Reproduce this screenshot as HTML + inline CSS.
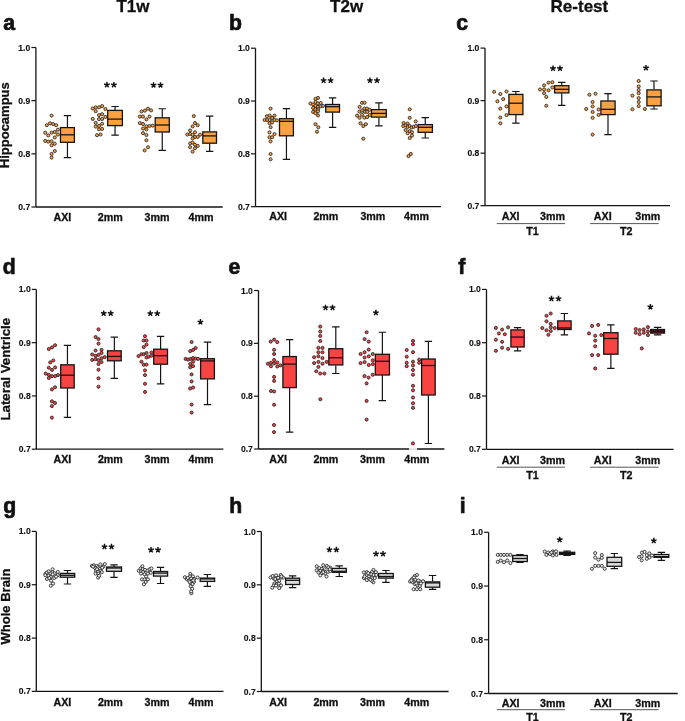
<!DOCTYPE html>
<html><head><meta charset="utf-8"><style>
html,body{margin:0;padding:0;background:#fff;width:685px;height:721px;overflow:hidden}
svg{will-change:transform}
svg text{font-family:"Liberation Sans", sans-serif;fill:#111;stroke:#111;stroke-width:0.3px}
</style></head><body>
<svg width="685" height="721" viewBox="0 0 685 721" style="display:block">
<rect width="685" height="721" fill="#fff"/>
<path d="M35.9 47.5V207M35.9 207H222.7" stroke="#141414" stroke-width="1.3" fill="none"/>
<path d="M31.4 47.5H35.9" stroke="#141414" stroke-width="1.2"/>
<text x="30.3" y="50.58" font-size="8.6" font-weight="bold" text-anchor="end" style="stroke-width:0.12px">1.0</text>
<path d="M31.4 100.67H35.9" stroke="#141414" stroke-width="1.2"/>
<text x="30.3" y="103.75" font-size="8.6" font-weight="bold" text-anchor="end" style="stroke-width:0.12px">0.9</text>
<path d="M31.4 153.83H35.9" stroke="#141414" stroke-width="1.2"/>
<text x="30.3" y="156.91" font-size="8.6" font-weight="bold" text-anchor="end" style="stroke-width:0.12px">0.8</text>
<path d="M31.4 207H35.9" stroke="#141414" stroke-width="1.2"/>
<text x="30.3" y="210.08" font-size="8.6" font-weight="bold" text-anchor="end" style="stroke-width:0.12px">0.7</text>
<path d="M67.45 115.6V127.3M67.45 142.6V157.6M63.75 115.6H71.15M63.75 157.6H71.15" stroke="#141414" stroke-width="1.2" fill="none"/>
<rect x="60.5" y="127.6" width="13.9" height="14.7" fill="#fca042" stroke="#141414" stroke-width="1.3"/>
<path d="M60.5 134.8H74.4" stroke="#141414" stroke-width="1.3"/>
<circle cx="51.6" cy="115.6" r="1.55" fill="#fca042" stroke="#1a1a1a" stroke-width="0.8"/>
<circle cx="46.8" cy="125.2" r="1.55" fill="#fca042" stroke="#1a1a1a" stroke-width="0.8"/>
<circle cx="50" cy="123.3" r="1.55" fill="#fca042" stroke="#1a1a1a" stroke-width="0.8"/>
<circle cx="53.1" cy="124.1" r="1.55" fill="#fca042" stroke="#1a1a1a" stroke-width="0.8"/>
<circle cx="56.2" cy="125.2" r="1.55" fill="#fca042" stroke="#1a1a1a" stroke-width="0.8"/>
<circle cx="57.9" cy="129.7" r="1.55" fill="#fca042" stroke="#1a1a1a" stroke-width="0.8"/>
<circle cx="45.2" cy="132.7" r="1.55" fill="#fca042" stroke="#1a1a1a" stroke-width="0.8"/>
<circle cx="48.3" cy="135.4" r="1.55" fill="#fca042" stroke="#1a1a1a" stroke-width="0.8"/>
<circle cx="51.6" cy="132.7" r="1.55" fill="#fca042" stroke="#1a1a1a" stroke-width="0.8"/>
<circle cx="54.8" cy="132" r="1.55" fill="#fca042" stroke="#1a1a1a" stroke-width="0.8"/>
<circle cx="57.9" cy="134.5" r="1.55" fill="#fca042" stroke="#1a1a1a" stroke-width="0.8"/>
<circle cx="54.8" cy="137.4" r="1.55" fill="#fca042" stroke="#1a1a1a" stroke-width="0.8"/>
<circle cx="45.2" cy="140.9" r="1.55" fill="#fca042" stroke="#1a1a1a" stroke-width="0.8"/>
<circle cx="48.3" cy="141.6" r="1.55" fill="#fca042" stroke="#1a1a1a" stroke-width="0.8"/>
<circle cx="51.6" cy="141.3" r="1.55" fill="#fca042" stroke="#1a1a1a" stroke-width="0.8"/>
<circle cx="51.6" cy="145.2" r="1.55" fill="#fca042" stroke="#1a1a1a" stroke-width="0.8"/>
<circle cx="54.8" cy="143.7" r="1.55" fill="#fca042" stroke="#1a1a1a" stroke-width="0.8"/>
<circle cx="54.8" cy="151" r="1.55" fill="#fca042" stroke="#1a1a1a" stroke-width="0.8"/>
<circle cx="51.6" cy="153.9" r="1.55" fill="#fca042" stroke="#1a1a1a" stroke-width="0.8"/>
<circle cx="51.6" cy="157.6" r="1.55" fill="#fca042" stroke="#1a1a1a" stroke-width="0.8"/>
<path d="M115.05 106.5V110.1M115.05 125.9V135.2M111.35 106.5H118.75M111.35 135.2H118.75" stroke="#141414" stroke-width="1.2" fill="none"/>
<rect x="107.7" y="110.4" width="14.7" height="15.2" fill="#fca042" stroke="#141414" stroke-width="1.3"/>
<path d="M107.7 119.1H122.4" stroke="#141414" stroke-width="1.3"/>
<circle cx="92.7" cy="108.5" r="1.55" fill="#fca042" stroke="#1a1a1a" stroke-width="0.8"/>
<circle cx="95.7" cy="107.4" r="1.55" fill="#fca042" stroke="#1a1a1a" stroke-width="0.8"/>
<circle cx="95.7" cy="111.2" r="1.55" fill="#fca042" stroke="#1a1a1a" stroke-width="0.8"/>
<circle cx="99" cy="107.3" r="1.55" fill="#fca042" stroke="#1a1a1a" stroke-width="0.8"/>
<circle cx="102.1" cy="106.1" r="1.55" fill="#fca042" stroke="#1a1a1a" stroke-width="0.8"/>
<circle cx="105.4" cy="109" r="1.55" fill="#fca042" stroke="#1a1a1a" stroke-width="0.8"/>
<circle cx="99" cy="115.1" r="1.55" fill="#fca042" stroke="#1a1a1a" stroke-width="0.8"/>
<circle cx="102.1" cy="114.2" r="1.55" fill="#fca042" stroke="#1a1a1a" stroke-width="0.8"/>
<circle cx="105.4" cy="116.9" r="1.55" fill="#fca042" stroke="#1a1a1a" stroke-width="0.8"/>
<circle cx="92.7" cy="118.9" r="1.55" fill="#fca042" stroke="#1a1a1a" stroke-width="0.8"/>
<circle cx="99" cy="119.1" r="1.55" fill="#fca042" stroke="#1a1a1a" stroke-width="0.8"/>
<circle cx="102.1" cy="119" r="1.55" fill="#fca042" stroke="#1a1a1a" stroke-width="0.8"/>
<circle cx="95.7" cy="122.9" r="1.55" fill="#fca042" stroke="#1a1a1a" stroke-width="0.8"/>
<circle cx="102.1" cy="123.8" r="1.55" fill="#fca042" stroke="#1a1a1a" stroke-width="0.8"/>
<circle cx="95.7" cy="126.6" r="1.55" fill="#fca042" stroke="#1a1a1a" stroke-width="0.8"/>
<circle cx="99" cy="125.9" r="1.55" fill="#fca042" stroke="#1a1a1a" stroke-width="0.8"/>
<circle cx="99" cy="129.3" r="1.55" fill="#fca042" stroke="#1a1a1a" stroke-width="0.8"/>
<circle cx="102.1" cy="128.9" r="1.55" fill="#fca042" stroke="#1a1a1a" stroke-width="0.8"/>
<circle cx="97" cy="135.2" r="1.55" fill="#fca042" stroke="#1a1a1a" stroke-width="0.8"/>
<circle cx="100.6" cy="134.5" r="1.55" fill="#fca042" stroke="#1a1a1a" stroke-width="0.8"/>
<path d="M162.25 108.75V117.5M162.25 132.3V150.4M158.55 108.75H165.95M158.55 150.4H165.95" stroke="#141414" stroke-width="1.2" fill="none"/>
<rect x="155.2" y="117.8" width="14.1" height="14.2" fill="#fca042" stroke="#141414" stroke-width="1.3"/>
<path d="M155.2 125H169.3" stroke="#141414" stroke-width="1.3"/>
<circle cx="141.5" cy="111.5" r="1.55" fill="#fca042" stroke="#1a1a1a" stroke-width="0.8"/>
<circle cx="144.9" cy="110.6" r="1.55" fill="#fca042" stroke="#1a1a1a" stroke-width="0.8"/>
<circle cx="148" cy="108.75" r="1.55" fill="#fca042" stroke="#1a1a1a" stroke-width="0.8"/>
<circle cx="151.1" cy="110.4" r="1.55" fill="#fca042" stroke="#1a1a1a" stroke-width="0.8"/>
<circle cx="139.9" cy="116.6" r="1.55" fill="#fca042" stroke="#1a1a1a" stroke-width="0.8"/>
<circle cx="143" cy="116.6" r="1.55" fill="#fca042" stroke="#1a1a1a" stroke-width="0.8"/>
<circle cx="146.4" cy="119.4" r="1.55" fill="#fca042" stroke="#1a1a1a" stroke-width="0.8"/>
<circle cx="149.5" cy="116.6" r="1.55" fill="#fca042" stroke="#1a1a1a" stroke-width="0.8"/>
<circle cx="139.9" cy="123.1" r="1.55" fill="#fca042" stroke="#1a1a1a" stroke-width="0.8"/>
<circle cx="143" cy="124" r="1.55" fill="#fca042" stroke="#1a1a1a" stroke-width="0.8"/>
<circle cx="146.4" cy="126.25" r="1.55" fill="#fca042" stroke="#1a1a1a" stroke-width="0.8"/>
<circle cx="149.5" cy="126" r="1.55" fill="#fca042" stroke="#1a1a1a" stroke-width="0.8"/>
<circle cx="152.75" cy="125.6" r="1.55" fill="#fca042" stroke="#1a1a1a" stroke-width="0.8"/>
<circle cx="143" cy="128.5" r="1.55" fill="#fca042" stroke="#1a1a1a" stroke-width="0.8"/>
<circle cx="146.4" cy="129.4" r="1.55" fill="#fca042" stroke="#1a1a1a" stroke-width="0.8"/>
<circle cx="143" cy="133.1" r="1.55" fill="#fca042" stroke="#1a1a1a" stroke-width="0.8"/>
<circle cx="146.4" cy="135" r="1.55" fill="#fca042" stroke="#1a1a1a" stroke-width="0.8"/>
<circle cx="146.4" cy="140.25" r="1.55" fill="#fca042" stroke="#1a1a1a" stroke-width="0.8"/>
<circle cx="148" cy="147.25" r="1.55" fill="#fca042" stroke="#1a1a1a" stroke-width="0.8"/>
<circle cx="144.6" cy="150.4" r="1.55" fill="#fca042" stroke="#1a1a1a" stroke-width="0.8"/>
<path d="M209.65 116.1V131.6M209.65 143.5V151.3M205.95 116.1H213.35M205.95 151.3H213.35" stroke="#141414" stroke-width="1.2" fill="none"/>
<rect x="202.8" y="131.9" width="13.7" height="11.3" fill="#fca042" stroke="#141414" stroke-width="1.3"/>
<path d="M202.8 135.9H216.5" stroke="#141414" stroke-width="1.3"/>
<circle cx="193.8" cy="116.1" r="1.55" fill="#fca042" stroke="#1a1a1a" stroke-width="0.8"/>
<circle cx="195" cy="123" r="1.55" fill="#fca042" stroke="#1a1a1a" stroke-width="0.8"/>
<circle cx="197.7" cy="125.2" r="1.55" fill="#fca042" stroke="#1a1a1a" stroke-width="0.8"/>
<circle cx="192.6" cy="126.4" r="1.55" fill="#fca042" stroke="#1a1a1a" stroke-width="0.8"/>
<circle cx="190.1" cy="130.5" r="1.55" fill="#fca042" stroke="#1a1a1a" stroke-width="0.8"/>
<circle cx="195" cy="132.3" r="1.55" fill="#fca042" stroke="#1a1a1a" stroke-width="0.8"/>
<circle cx="187.3" cy="134.5" r="1.55" fill="#fca042" stroke="#1a1a1a" stroke-width="0.8"/>
<circle cx="190.1" cy="133.9" r="1.55" fill="#fca042" stroke="#1a1a1a" stroke-width="0.8"/>
<circle cx="192.6" cy="134.8" r="1.55" fill="#fca042" stroke="#1a1a1a" stroke-width="0.8"/>
<circle cx="195" cy="137" r="1.55" fill="#fca042" stroke="#1a1a1a" stroke-width="0.8"/>
<circle cx="197.7" cy="136.9" r="1.55" fill="#fca042" stroke="#1a1a1a" stroke-width="0.8"/>
<circle cx="200" cy="134.7" r="1.55" fill="#fca042" stroke="#1a1a1a" stroke-width="0.8"/>
<circle cx="192.6" cy="138.4" r="1.55" fill="#fca042" stroke="#1a1a1a" stroke-width="0.8"/>
<circle cx="190.1" cy="143.5" r="1.55" fill="#fca042" stroke="#1a1a1a" stroke-width="0.8"/>
<circle cx="192.6" cy="142.6" r="1.55" fill="#fca042" stroke="#1a1a1a" stroke-width="0.8"/>
<circle cx="195" cy="144.8" r="1.55" fill="#fca042" stroke="#1a1a1a" stroke-width="0.8"/>
<circle cx="197.7" cy="145.9" r="1.55" fill="#fca042" stroke="#1a1a1a" stroke-width="0.8"/>
<circle cx="190.1" cy="147.2" r="1.55" fill="#fca042" stroke="#1a1a1a" stroke-width="0.8"/>
<circle cx="195" cy="148.2" r="1.55" fill="#fca042" stroke="#1a1a1a" stroke-width="0.8"/>
<circle cx="192.6" cy="151.6" r="1.55" fill="#fca042" stroke="#1a1a1a" stroke-width="0.8"/>
<path d="M255.5 48.2V206.7M255.5 206.7H440.9" stroke="#141414" stroke-width="1.3" fill="none"/>
<path d="M251 48.2H255.5" stroke="#141414" stroke-width="1.2"/>
<text x="249.9" y="51.28" font-size="8.6" font-weight="bold" text-anchor="end" style="stroke-width:0.12px">1.0</text>
<path d="M251 101.03H255.5" stroke="#141414" stroke-width="1.2"/>
<text x="249.9" y="104.11" font-size="8.6" font-weight="bold" text-anchor="end" style="stroke-width:0.12px">0.9</text>
<path d="M251 153.87H255.5" stroke="#141414" stroke-width="1.2"/>
<text x="249.9" y="156.95" font-size="8.6" font-weight="bold" text-anchor="end" style="stroke-width:0.12px">0.8</text>
<path d="M251 206.7H255.5" stroke="#141414" stroke-width="1.2"/>
<text x="249.9" y="209.78" font-size="8.6" font-weight="bold" text-anchor="end" style="stroke-width:0.12px">0.7</text>
<path d="M286.45 108.6V118.4M286.45 136.1V159.3M282.75 108.6H290.15M282.75 159.3H290.15" stroke="#141414" stroke-width="1.2" fill="none"/>
<rect x="279.5" y="118.7" width="13.9" height="17.1" fill="#fca042" stroke="#141414" stroke-width="1.3"/>
<path d="M279.5 121.3H293.4" stroke="#141414" stroke-width="1.3"/>
<circle cx="270.6" cy="108.6" r="1.55" fill="#fca042" stroke="#1a1a1a" stroke-width="0.8"/>
<circle cx="266.9" cy="116.2" r="1.55" fill="#fca042" stroke="#1a1a1a" stroke-width="0.8"/>
<circle cx="269.7" cy="115.6" r="1.55" fill="#fca042" stroke="#1a1a1a" stroke-width="0.8"/>
<circle cx="274.5" cy="115.6" r="1.55" fill="#fca042" stroke="#1a1a1a" stroke-width="0.8"/>
<circle cx="272.1" cy="118" r="1.55" fill="#fca042" stroke="#1a1a1a" stroke-width="0.8"/>
<circle cx="264.6" cy="120" r="1.55" fill="#fca042" stroke="#1a1a1a" stroke-width="0.8"/>
<circle cx="267.2" cy="120" r="1.55" fill="#fca042" stroke="#1a1a1a" stroke-width="0.8"/>
<circle cx="269.7" cy="120" r="1.55" fill="#fca042" stroke="#1a1a1a" stroke-width="0.8"/>
<circle cx="274.5" cy="120" r="1.55" fill="#fca042" stroke="#1a1a1a" stroke-width="0.8"/>
<circle cx="276.9" cy="120.4" r="1.55" fill="#fca042" stroke="#1a1a1a" stroke-width="0.8"/>
<circle cx="269.5" cy="123.2" r="1.55" fill="#fca042" stroke="#1a1a1a" stroke-width="0.8"/>
<circle cx="272.1" cy="122.4" r="1.55" fill="#fca042" stroke="#1a1a1a" stroke-width="0.8"/>
<circle cx="270.6" cy="127.2" r="1.55" fill="#fca042" stroke="#1a1a1a" stroke-width="0.8"/>
<circle cx="269.5" cy="132.4" r="1.55" fill="#fca042" stroke="#1a1a1a" stroke-width="0.8"/>
<circle cx="274.5" cy="134.1" r="1.55" fill="#fca042" stroke="#1a1a1a" stroke-width="0.8"/>
<circle cx="269.5" cy="137.2" r="1.55" fill="#fca042" stroke="#1a1a1a" stroke-width="0.8"/>
<circle cx="272.1" cy="137.2" r="1.55" fill="#fca042" stroke="#1a1a1a" stroke-width="0.8"/>
<circle cx="270.6" cy="141.4" r="1.55" fill="#fca042" stroke="#1a1a1a" stroke-width="0.8"/>
<circle cx="270.6" cy="154" r="1.55" fill="#fca042" stroke="#1a1a1a" stroke-width="0.8"/>
<circle cx="270.6" cy="159.3" r="1.55" fill="#fca042" stroke="#1a1a1a" stroke-width="0.8"/>
<path d="M332.6 97.9V104.2M332.6 112.4V127.3M328.9 97.9H336.3M328.9 127.3H336.3" stroke="#141414" stroke-width="1.2" fill="none"/>
<rect x="325.7" y="104.5" width="13.8" height="7.6" fill="#fca042" stroke="#141414" stroke-width="1.3"/>
<path d="M325.7 106.7H339.5" stroke="#141414" stroke-width="1.3"/>
<circle cx="318" cy="97.9" r="1.55" fill="#fca042" stroke="#1a1a1a" stroke-width="0.8"/>
<circle cx="315.5" cy="98.9" r="1.55" fill="#fca042" stroke="#1a1a1a" stroke-width="0.8"/>
<circle cx="310.5" cy="103.5" r="1.55" fill="#fca042" stroke="#1a1a1a" stroke-width="0.8"/>
<circle cx="313.1" cy="104.5" r="1.55" fill="#fca042" stroke="#1a1a1a" stroke-width="0.8"/>
<circle cx="315.5" cy="102" r="1.55" fill="#fca042" stroke="#1a1a1a" stroke-width="0.8"/>
<circle cx="318" cy="103.5" r="1.55" fill="#fca042" stroke="#1a1a1a" stroke-width="0.8"/>
<circle cx="320.7" cy="103" r="1.55" fill="#fca042" stroke="#1a1a1a" stroke-width="0.8"/>
<circle cx="315.5" cy="105.9" r="1.55" fill="#fca042" stroke="#1a1a1a" stroke-width="0.8"/>
<circle cx="318" cy="106.9" r="1.55" fill="#fca042" stroke="#1a1a1a" stroke-width="0.8"/>
<circle cx="320.7" cy="106.4" r="1.55" fill="#fca042" stroke="#1a1a1a" stroke-width="0.8"/>
<circle cx="323.1" cy="105.9" r="1.55" fill="#fca042" stroke="#1a1a1a" stroke-width="0.8"/>
<circle cx="313.1" cy="107.9" r="1.55" fill="#fca042" stroke="#1a1a1a" stroke-width="0.8"/>
<circle cx="315.5" cy="109.3" r="1.55" fill="#fca042" stroke="#1a1a1a" stroke-width="0.8"/>
<circle cx="318" cy="109.3" r="1.55" fill="#fca042" stroke="#1a1a1a" stroke-width="0.8"/>
<circle cx="313.1" cy="111.9" r="1.55" fill="#fca042" stroke="#1a1a1a" stroke-width="0.8"/>
<circle cx="315.5" cy="113.2" r="1.55" fill="#fca042" stroke="#1a1a1a" stroke-width="0.8"/>
<circle cx="318" cy="111.3" r="1.55" fill="#fca042" stroke="#1a1a1a" stroke-width="0.8"/>
<circle cx="318" cy="115.4" r="1.55" fill="#fca042" stroke="#1a1a1a" stroke-width="0.8"/>
<circle cx="315.5" cy="124.2" r="1.55" fill="#fca042" stroke="#1a1a1a" stroke-width="0.8"/>
<circle cx="318.3" cy="127.3" r="1.55" fill="#fca042" stroke="#1a1a1a" stroke-width="0.8"/>
<circle cx="317" cy="131.7" r="1.55" fill="#fca042" stroke="#1a1a1a" stroke-width="0.8"/>
<path d="M378.9 102.8V109.3M378.9 117.4V125.8M375.2 102.8H382.6M375.2 125.8H382.6" stroke="#141414" stroke-width="1.2" fill="none"/>
<rect x="371.5" y="109.6" width="14.8" height="7.5" fill="#fca042" stroke="#141414" stroke-width="1.3"/>
<path d="M371.5 113.4H386.3" stroke="#141414" stroke-width="1.3"/>
<circle cx="362" cy="102.8" r="1.55" fill="#fca042" stroke="#1a1a1a" stroke-width="0.8"/>
<circle cx="364.6" cy="102.8" r="1.55" fill="#fca042" stroke="#1a1a1a" stroke-width="0.8"/>
<circle cx="359.6" cy="106.9" r="1.55" fill="#fca042" stroke="#1a1a1a" stroke-width="0.8"/>
<circle cx="364.4" cy="108.6" r="1.55" fill="#fca042" stroke="#1a1a1a" stroke-width="0.8"/>
<circle cx="367.1" cy="108.6" r="1.55" fill="#fca042" stroke="#1a1a1a" stroke-width="0.8"/>
<circle cx="369.5" cy="109.8" r="1.55" fill="#fca042" stroke="#1a1a1a" stroke-width="0.8"/>
<circle cx="359.4" cy="111.6" r="1.55" fill="#fca042" stroke="#1a1a1a" stroke-width="0.8"/>
<circle cx="362" cy="110.6" r="1.55" fill="#fca042" stroke="#1a1a1a" stroke-width="0.8"/>
<circle cx="364.9" cy="111.9" r="1.55" fill="#fca042" stroke="#1a1a1a" stroke-width="0.8"/>
<circle cx="367.3" cy="111.9" r="1.55" fill="#fca042" stroke="#1a1a1a" stroke-width="0.8"/>
<circle cx="357.1" cy="115.6" r="1.55" fill="#fca042" stroke="#1a1a1a" stroke-width="0.8"/>
<circle cx="362" cy="114.7" r="1.55" fill="#fca042" stroke="#1a1a1a" stroke-width="0.8"/>
<circle cx="369.8" cy="115" r="1.55" fill="#fca042" stroke="#1a1a1a" stroke-width="0.8"/>
<circle cx="359.6" cy="117.8" r="1.55" fill="#fca042" stroke="#1a1a1a" stroke-width="0.8"/>
<circle cx="364.4" cy="117.6" r="1.55" fill="#fca042" stroke="#1a1a1a" stroke-width="0.8"/>
<circle cx="367.1" cy="117.1" r="1.55" fill="#fca042" stroke="#1a1a1a" stroke-width="0.8"/>
<circle cx="360.5" cy="123.2" r="1.55" fill="#fca042" stroke="#1a1a1a" stroke-width="0.8"/>
<circle cx="363.3" cy="126.1" r="1.55" fill="#fca042" stroke="#1a1a1a" stroke-width="0.8"/>
<circle cx="365.9" cy="124.2" r="1.55" fill="#fca042" stroke="#1a1a1a" stroke-width="0.8"/>
<circle cx="363.3" cy="138.7" r="1.55" fill="#fca042" stroke="#1a1a1a" stroke-width="0.8"/>
<path d="M425.25 117.6V124.3M425.25 132.6V138M421.55 117.6H428.95M421.55 138H428.95" stroke="#141414" stroke-width="1.2" fill="none"/>
<rect x="418.1" y="124.6" width="14.3" height="7.7" fill="#fca042" stroke="#141414" stroke-width="1.3"/>
<path d="M418.1 127.3H432.4" stroke="#141414" stroke-width="1.3"/>
<circle cx="409.7" cy="109.3" r="1.55" fill="#fca042" stroke="#1a1a1a" stroke-width="0.8"/>
<circle cx="409.7" cy="117.8" r="1.55" fill="#fca042" stroke="#1a1a1a" stroke-width="0.8"/>
<circle cx="415.7" cy="121.4" r="1.55" fill="#fca042" stroke="#1a1a1a" stroke-width="0.8"/>
<circle cx="403.6" cy="123" r="1.55" fill="#fca042" stroke="#1a1a1a" stroke-width="0.8"/>
<circle cx="407.6" cy="123.6" r="1.55" fill="#fca042" stroke="#1a1a1a" stroke-width="0.8"/>
<circle cx="403.3" cy="126.1" r="1.55" fill="#fca042" stroke="#1a1a1a" stroke-width="0.8"/>
<circle cx="405.6" cy="125.2" r="1.55" fill="#fca042" stroke="#1a1a1a" stroke-width="0.8"/>
<circle cx="407.6" cy="126.9" r="1.55" fill="#fca042" stroke="#1a1a1a" stroke-width="0.8"/>
<circle cx="409.7" cy="126.1" r="1.55" fill="#fca042" stroke="#1a1a1a" stroke-width="0.8"/>
<circle cx="411.7" cy="127.5" r="1.55" fill="#fca042" stroke="#1a1a1a" stroke-width="0.8"/>
<circle cx="413.8" cy="126.8" r="1.55" fill="#fca042" stroke="#1a1a1a" stroke-width="0.8"/>
<circle cx="415.9" cy="126" r="1.55" fill="#fca042" stroke="#1a1a1a" stroke-width="0.8"/>
<circle cx="405.6" cy="130" r="1.55" fill="#fca042" stroke="#1a1a1a" stroke-width="0.8"/>
<circle cx="409.7" cy="131.1" r="1.55" fill="#fca042" stroke="#1a1a1a" stroke-width="0.8"/>
<circle cx="412" cy="132.3" r="1.55" fill="#fca042" stroke="#1a1a1a" stroke-width="0.8"/>
<circle cx="407.6" cy="133.2" r="1.55" fill="#fca042" stroke="#1a1a1a" stroke-width="0.8"/>
<circle cx="412" cy="135.6" r="1.55" fill="#fca042" stroke="#1a1a1a" stroke-width="0.8"/>
<circle cx="409.7" cy="138" r="1.55" fill="#fca042" stroke="#1a1a1a" stroke-width="0.8"/>
<circle cx="410.8" cy="153.9" r="1.55" fill="#fca042" stroke="#1a1a1a" stroke-width="0.8"/>
<circle cx="408.5" cy="156.1" r="1.55" fill="#fca042" stroke="#1a1a1a" stroke-width="0.8"/>
<path d="M485 48.1V205.7M485 205.7H670" stroke="#141414" stroke-width="1.3" fill="none"/>
<path d="M480.5 48.1H485" stroke="#141414" stroke-width="1.2"/>
<text x="479.4" y="51.18" font-size="8.6" font-weight="bold" text-anchor="end" style="stroke-width:0.12px">1.0</text>
<path d="M480.5 100.63H485" stroke="#141414" stroke-width="1.2"/>
<text x="479.4" y="103.71" font-size="8.6" font-weight="bold" text-anchor="end" style="stroke-width:0.12px">0.9</text>
<path d="M480.5 153.17H485" stroke="#141414" stroke-width="1.2"/>
<text x="479.4" y="156.25" font-size="8.6" font-weight="bold" text-anchor="end" style="stroke-width:0.12px">0.8</text>
<path d="M480.5 205.7H485" stroke="#141414" stroke-width="1.2"/>
<text x="479.4" y="208.78" font-size="8.6" font-weight="bold" text-anchor="end" style="stroke-width:0.12px">0.7</text>
<path d="M515.9 91.5V94.1M515.9 114.9V123.2M512.2 91.5H519.6M512.2 123.2H519.6" stroke="#141414" stroke-width="1.2" fill="none"/>
<rect x="508.9" y="94.4" width="14" height="20.2" fill="#fca042" stroke="#141414" stroke-width="1.3"/>
<path d="M508.9 103.2H522.9" stroke="#141414" stroke-width="1.3"/>
<circle cx="494.1" cy="91.8" r="1.55" fill="#fca042" stroke="#1a1a1a" stroke-width="0.8"/>
<circle cx="500.3" cy="94" r="1.55" fill="#fca042" stroke="#1a1a1a" stroke-width="0.8"/>
<circle cx="506.5" cy="91.5" r="1.55" fill="#fca042" stroke="#1a1a1a" stroke-width="0.8"/>
<circle cx="503.2" cy="99.1" r="1.55" fill="#fca042" stroke="#1a1a1a" stroke-width="0.8"/>
<circle cx="497.4" cy="101.3" r="1.55" fill="#fca042" stroke="#1a1a1a" stroke-width="0.8"/>
<circle cx="506.5" cy="106.4" r="1.55" fill="#fca042" stroke="#1a1a1a" stroke-width="0.8"/>
<circle cx="500.3" cy="108.6" r="1.55" fill="#fca042" stroke="#1a1a1a" stroke-width="0.8"/>
<circle cx="506.5" cy="115.1" r="1.55" fill="#fca042" stroke="#1a1a1a" stroke-width="0.8"/>
<circle cx="500.3" cy="117.5" r="1.55" fill="#fca042" stroke="#1a1a1a" stroke-width="0.8"/>
<circle cx="500.3" cy="123.3" r="1.55" fill="#fca042" stroke="#1a1a1a" stroke-width="0.8"/>
<path d="M561.75 82.3V85.4M561.75 93.2V105.4M558.05 82.3H565.45M558.05 105.4H565.45" stroke="#141414" stroke-width="1.2" fill="none"/>
<rect x="554.6" y="85.7" width="14.3" height="7.2" fill="#fca042" stroke="#141414" stroke-width="1.3"/>
<path d="M554.6 89.3H568.9" stroke="#141414" stroke-width="1.3"/>
<circle cx="548.5" cy="82.7" r="1.55" fill="#fca042" stroke="#1a1a1a" stroke-width="0.8"/>
<circle cx="552.4" cy="82.2" r="1.55" fill="#fca042" stroke="#1a1a1a" stroke-width="0.8"/>
<circle cx="544.1" cy="85.4" r="1.55" fill="#fca042" stroke="#1a1a1a" stroke-width="0.8"/>
<circle cx="552.4" cy="87.4" r="1.55" fill="#fca042" stroke="#1a1a1a" stroke-width="0.8"/>
<circle cx="540" cy="89.5" r="1.55" fill="#fca042" stroke="#1a1a1a" stroke-width="0.8"/>
<circle cx="544.1" cy="89.5" r="1.55" fill="#fca042" stroke="#1a1a1a" stroke-width="0.8"/>
<circle cx="548.5" cy="90.3" r="1.55" fill="#fca042" stroke="#1a1a1a" stroke-width="0.8"/>
<circle cx="544.1" cy="93.2" r="1.55" fill="#fca042" stroke="#1a1a1a" stroke-width="0.8"/>
<circle cx="546.3" cy="96.9" r="1.55" fill="#fca042" stroke="#1a1a1a" stroke-width="0.8"/>
<circle cx="546.3" cy="105.8" r="1.55" fill="#fca042" stroke="#1a1a1a" stroke-width="0.8"/>
<path d="M608 93.7V100.7M608 114.9V134.6M604.3 93.7H611.7M604.3 134.6H611.7" stroke="#141414" stroke-width="1.2" fill="none"/>
<rect x="600.9" y="101" width="14.2" height="13.6" fill="#fca042" stroke="#141414" stroke-width="1.3"/>
<path d="M600.9 109.3H615.1" stroke="#141414" stroke-width="1.3"/>
<circle cx="589.4" cy="94.7" r="1.55" fill="#fca042" stroke="#1a1a1a" stroke-width="0.8"/>
<circle cx="595.5" cy="93.7" r="1.55" fill="#fca042" stroke="#1a1a1a" stroke-width="0.8"/>
<circle cx="592.6" cy="102" r="1.55" fill="#fca042" stroke="#1a1a1a" stroke-width="0.8"/>
<circle cx="592.6" cy="106.4" r="1.55" fill="#fca042" stroke="#1a1a1a" stroke-width="0.8"/>
<circle cx="586.2" cy="109" r="1.55" fill="#fca042" stroke="#1a1a1a" stroke-width="0.8"/>
<circle cx="598.6" cy="109.5" r="1.55" fill="#fca042" stroke="#1a1a1a" stroke-width="0.8"/>
<circle cx="592.6" cy="111.9" r="1.55" fill="#fca042" stroke="#1a1a1a" stroke-width="0.8"/>
<circle cx="598.6" cy="114.9" r="1.55" fill="#fca042" stroke="#1a1a1a" stroke-width="0.8"/>
<circle cx="592.6" cy="117.8" r="1.55" fill="#fca042" stroke="#1a1a1a" stroke-width="0.8"/>
<circle cx="592.6" cy="134.6" r="1.55" fill="#fca042" stroke="#1a1a1a" stroke-width="0.8"/>
<path d="M654 81V89.6M654 106.1V109M650.3 81H657.7M650.3 109H657.7" stroke="#141414" stroke-width="1.2" fill="none"/>
<rect x="646.9" y="89.9" width="14.2" height="15.9" fill="#fca042" stroke="#141414" stroke-width="1.3"/>
<path d="M646.9 96.9H661.1" stroke="#141414" stroke-width="1.3"/>
<circle cx="638.7" cy="81" r="1.55" fill="#fca042" stroke="#1a1a1a" stroke-width="0.8"/>
<circle cx="638.7" cy="86.4" r="1.55" fill="#fca042" stroke="#1a1a1a" stroke-width="0.8"/>
<circle cx="638.7" cy="90" r="1.55" fill="#fca042" stroke="#1a1a1a" stroke-width="0.8"/>
<circle cx="638.7" cy="93.2" r="1.55" fill="#fca042" stroke="#1a1a1a" stroke-width="0.8"/>
<circle cx="632.4" cy="95.6" r="1.55" fill="#fca042" stroke="#1a1a1a" stroke-width="0.8"/>
<circle cx="638.7" cy="98.1" r="1.55" fill="#fca042" stroke="#1a1a1a" stroke-width="0.8"/>
<circle cx="638.7" cy="102" r="1.55" fill="#fca042" stroke="#1a1a1a" stroke-width="0.8"/>
<circle cx="638.7" cy="106.1" r="1.55" fill="#fca042" stroke="#1a1a1a" stroke-width="0.8"/>
<circle cx="632.4" cy="109.3" r="1.55" fill="#fca042" stroke="#1a1a1a" stroke-width="0.8"/>
<circle cx="644.9" cy="109" r="1.55" fill="#fca042" stroke="#1a1a1a" stroke-width="0.8"/>
<path d="M36.3 289.4V449.2M36.3 449.2H223.4" stroke="#141414" stroke-width="1.3" fill="none"/>
<path d="M31.8 289.4H36.3" stroke="#141414" stroke-width="1.2"/>
<text x="30.7" y="292.48" font-size="8.6" font-weight="bold" text-anchor="end" style="stroke-width:0.12px">1.0</text>
<path d="M31.8 342.67H36.3" stroke="#141414" stroke-width="1.2"/>
<text x="30.7" y="345.75" font-size="8.6" font-weight="bold" text-anchor="end" style="stroke-width:0.12px">0.9</text>
<path d="M31.8 395.93H36.3" stroke="#141414" stroke-width="1.2"/>
<text x="30.7" y="399.01" font-size="8.6" font-weight="bold" text-anchor="end" style="stroke-width:0.12px">0.8</text>
<path d="M31.8 449.2H36.3" stroke="#141414" stroke-width="1.2"/>
<text x="30.7" y="452.28" font-size="8.6" font-weight="bold" text-anchor="end" style="stroke-width:0.12px">0.7</text>
<path d="M67.45 345.3V364.5M67.45 388.3V417.4M63.75 345.3H71.15M63.75 417.4H71.15" stroke="#141414" stroke-width="1.2" fill="none"/>
<rect x="60.7" y="364.8" width="13.5" height="23.2" fill="#f84343" stroke="#141414" stroke-width="1.3"/>
<path d="M60.7 375.2H74.2" stroke="#141414" stroke-width="1.3"/>
<circle cx="55.1" cy="345.2" r="1.55" fill="#f84343" stroke="#1a1a1a" stroke-width="0.8"/>
<circle cx="52" cy="347.4" r="1.55" fill="#f84343" stroke="#1a1a1a" stroke-width="0.8"/>
<circle cx="48.8" cy="349" r="1.55" fill="#f84343" stroke="#1a1a1a" stroke-width="0.8"/>
<circle cx="53.3" cy="360.5" r="1.55" fill="#f84343" stroke="#1a1a1a" stroke-width="0.8"/>
<circle cx="50.2" cy="362.4" r="1.55" fill="#f84343" stroke="#1a1a1a" stroke-width="0.8"/>
<circle cx="48.8" cy="367.7" r="1.55" fill="#f84343" stroke="#1a1a1a" stroke-width="0.8"/>
<circle cx="52" cy="369.9" r="1.55" fill="#f84343" stroke="#1a1a1a" stroke-width="0.8"/>
<circle cx="55.1" cy="367.4" r="1.55" fill="#f84343" stroke="#1a1a1a" stroke-width="0.8"/>
<circle cx="45.7" cy="373.6" r="1.55" fill="#f84343" stroke="#1a1a1a" stroke-width="0.8"/>
<circle cx="48.8" cy="374.8" r="1.55" fill="#f84343" stroke="#1a1a1a" stroke-width="0.8"/>
<circle cx="52" cy="376.1" r="1.55" fill="#f84343" stroke="#1a1a1a" stroke-width="0.8"/>
<circle cx="55.1" cy="376.1" r="1.55" fill="#f84343" stroke="#1a1a1a" stroke-width="0.8"/>
<circle cx="58" cy="375.1" r="1.55" fill="#f84343" stroke="#1a1a1a" stroke-width="0.8"/>
<circle cx="48.8" cy="378" r="1.55" fill="#f84343" stroke="#1a1a1a" stroke-width="0.8"/>
<circle cx="51.9" cy="389.4" r="1.55" fill="#f84343" stroke="#1a1a1a" stroke-width="0.8"/>
<circle cx="55" cy="387.3" r="1.55" fill="#f84343" stroke="#1a1a1a" stroke-width="0.8"/>
<circle cx="51.9" cy="401.3" r="1.55" fill="#f84343" stroke="#1a1a1a" stroke-width="0.8"/>
<circle cx="55" cy="403" r="1.55" fill="#f84343" stroke="#1a1a1a" stroke-width="0.8"/>
<circle cx="51.9" cy="406.1" r="1.55" fill="#f84343" stroke="#1a1a1a" stroke-width="0.8"/>
<circle cx="51.9" cy="417.6" r="1.55" fill="#f84343" stroke="#1a1a1a" stroke-width="0.8"/>
<path d="M114.35 337.2V350.5M114.35 361.1V378.3M110.65 337.2H118.05M110.65 378.3H118.05" stroke="#141414" stroke-width="1.2" fill="none"/>
<rect x="107.5" y="350.8" width="13.7" height="10" fill="#f84343" stroke="#141414" stroke-width="1.3"/>
<path d="M107.5 356.4H121.2" stroke="#141414" stroke-width="1.3"/>
<circle cx="98.5" cy="329.3" r="1.55" fill="#f84343" stroke="#1a1a1a" stroke-width="0.8"/>
<circle cx="95.6" cy="337" r="1.55" fill="#f84343" stroke="#1a1a1a" stroke-width="0.8"/>
<circle cx="98.5" cy="339" r="1.55" fill="#f84343" stroke="#1a1a1a" stroke-width="0.8"/>
<circle cx="98.5" cy="343.6" r="1.55" fill="#f84343" stroke="#1a1a1a" stroke-width="0.8"/>
<circle cx="95.6" cy="350.5" r="1.55" fill="#f84343" stroke="#1a1a1a" stroke-width="0.8"/>
<circle cx="101.5" cy="349.9" r="1.55" fill="#f84343" stroke="#1a1a1a" stroke-width="0.8"/>
<circle cx="92.2" cy="354.5" r="1.55" fill="#f84343" stroke="#1a1a1a" stroke-width="0.8"/>
<circle cx="95.6" cy="355.9" r="1.55" fill="#f84343" stroke="#1a1a1a" stroke-width="0.8"/>
<circle cx="98.5" cy="354.9" r="1.55" fill="#f84343" stroke="#1a1a1a" stroke-width="0.8"/>
<circle cx="101.5" cy="353" r="1.55" fill="#f84343" stroke="#1a1a1a" stroke-width="0.8"/>
<circle cx="92.2" cy="359.9" r="1.55" fill="#f84343" stroke="#1a1a1a" stroke-width="0.8"/>
<circle cx="95.6" cy="359.2" r="1.55" fill="#f84343" stroke="#1a1a1a" stroke-width="0.8"/>
<circle cx="98.5" cy="360.1" r="1.55" fill="#f84343" stroke="#1a1a1a" stroke-width="0.8"/>
<circle cx="101.5" cy="358.2" r="1.55" fill="#f84343" stroke="#1a1a1a" stroke-width="0.8"/>
<circle cx="104.7" cy="357.1" r="1.55" fill="#f84343" stroke="#1a1a1a" stroke-width="0.8"/>
<circle cx="101.5" cy="362" r="1.55" fill="#f84343" stroke="#1a1a1a" stroke-width="0.8"/>
<circle cx="98.5" cy="364" r="1.55" fill="#f84343" stroke="#1a1a1a" stroke-width="0.8"/>
<circle cx="98.5" cy="369.8" r="1.55" fill="#f84343" stroke="#1a1a1a" stroke-width="0.8"/>
<circle cx="98.5" cy="378.3" r="1.55" fill="#f84343" stroke="#1a1a1a" stroke-width="0.8"/>
<circle cx="98.5" cy="386.7" r="1.55" fill="#f84343" stroke="#1a1a1a" stroke-width="0.8"/>
<path d="M160.6 336.4V348.9M160.6 364.5V383.8M156.9 336.4H164.3M156.9 383.8H164.3" stroke="#141414" stroke-width="1.2" fill="none"/>
<rect x="153.7" y="349.2" width="13.8" height="15" fill="#f84343" stroke="#141414" stroke-width="1.3"/>
<path d="M153.7 355.7H167.5" stroke="#141414" stroke-width="1.3"/>
<circle cx="145" cy="336.2" r="1.55" fill="#f84343" stroke="#1a1a1a" stroke-width="0.8"/>
<circle cx="143.7" cy="340.5" r="1.55" fill="#f84343" stroke="#1a1a1a" stroke-width="0.8"/>
<circle cx="146.5" cy="340.5" r="1.55" fill="#f84343" stroke="#1a1a1a" stroke-width="0.8"/>
<circle cx="146.5" cy="344.6" r="1.55" fill="#f84343" stroke="#1a1a1a" stroke-width="0.8"/>
<circle cx="143.7" cy="347.1" r="1.55" fill="#f84343" stroke="#1a1a1a" stroke-width="0.8"/>
<circle cx="138.5" cy="356.1" r="1.55" fill="#f84343" stroke="#1a1a1a" stroke-width="0.8"/>
<circle cx="141.5" cy="354.2" r="1.55" fill="#f84343" stroke="#1a1a1a" stroke-width="0.8"/>
<circle cx="143.7" cy="354.2" r="1.55" fill="#f84343" stroke="#1a1a1a" stroke-width="0.8"/>
<circle cx="146.5" cy="353" r="1.55" fill="#f84343" stroke="#1a1a1a" stroke-width="0.8"/>
<circle cx="151.4" cy="352.6" r="1.55" fill="#f84343" stroke="#1a1a1a" stroke-width="0.8"/>
<circle cx="146.5" cy="357.4" r="1.55" fill="#f84343" stroke="#1a1a1a" stroke-width="0.8"/>
<circle cx="148.7" cy="356.7" r="1.55" fill="#f84343" stroke="#1a1a1a" stroke-width="0.8"/>
<circle cx="151.4" cy="355.7" r="1.55" fill="#f84343" stroke="#1a1a1a" stroke-width="0.8"/>
<circle cx="141.5" cy="361.7" r="1.55" fill="#f84343" stroke="#1a1a1a" stroke-width="0.8"/>
<circle cx="143.7" cy="364.8" r="1.55" fill="#f84343" stroke="#1a1a1a" stroke-width="0.8"/>
<circle cx="146.5" cy="364.6" r="1.55" fill="#f84343" stroke="#1a1a1a" stroke-width="0.8"/>
<circle cx="145" cy="370.4" r="1.55" fill="#f84343" stroke="#1a1a1a" stroke-width="0.8"/>
<circle cx="145" cy="375.1" r="1.55" fill="#f84343" stroke="#1a1a1a" stroke-width="0.8"/>
<circle cx="145" cy="383.8" r="1.55" fill="#f84343" stroke="#1a1a1a" stroke-width="0.8"/>
<circle cx="145" cy="391.9" r="1.55" fill="#f84343" stroke="#1a1a1a" stroke-width="0.8"/>
<path d="M207.5 342.1V358.4M207.5 379.2V404.6M203.8 342.1H211.2M203.8 404.6H211.2" stroke="#141414" stroke-width="1.2" fill="none"/>
<rect x="200.6" y="358.7" width="13.8" height="20.2" fill="#f84343" stroke="#141414" stroke-width="1.3"/>
<path d="M200.6 360.9H214.4" stroke="#141414" stroke-width="1.3"/>
<circle cx="191.6" cy="342" r="1.55" fill="#f84343" stroke="#1a1a1a" stroke-width="0.8"/>
<circle cx="190.2" cy="351.1" r="1.55" fill="#f84343" stroke="#1a1a1a" stroke-width="0.8"/>
<circle cx="193.1" cy="349.9" r="1.55" fill="#f84343" stroke="#1a1a1a" stroke-width="0.8"/>
<circle cx="195.6" cy="348" r="1.55" fill="#f84343" stroke="#1a1a1a" stroke-width="0.8"/>
<circle cx="185.6" cy="358.9" r="1.55" fill="#f84343" stroke="#1a1a1a" stroke-width="0.8"/>
<circle cx="188.1" cy="359.6" r="1.55" fill="#f84343" stroke="#1a1a1a" stroke-width="0.8"/>
<circle cx="190.6" cy="358.9" r="1.55" fill="#f84343" stroke="#1a1a1a" stroke-width="0.8"/>
<circle cx="193.1" cy="358" r="1.55" fill="#f84343" stroke="#1a1a1a" stroke-width="0.8"/>
<circle cx="195.6" cy="358.6" r="1.55" fill="#f84343" stroke="#1a1a1a" stroke-width="0.8"/>
<circle cx="198.1" cy="358.9" r="1.55" fill="#f84343" stroke="#1a1a1a" stroke-width="0.8"/>
<circle cx="193.1" cy="361.7" r="1.55" fill="#f84343" stroke="#1a1a1a" stroke-width="0.8"/>
<circle cx="190.2" cy="364" r="1.55" fill="#f84343" stroke="#1a1a1a" stroke-width="0.8"/>
<circle cx="193.1" cy="366.1" r="1.55" fill="#f84343" stroke="#1a1a1a" stroke-width="0.8"/>
<circle cx="190.2" cy="367.3" r="1.55" fill="#f84343" stroke="#1a1a1a" stroke-width="0.8"/>
<circle cx="191.6" cy="374.4" r="1.55" fill="#f84343" stroke="#1a1a1a" stroke-width="0.8"/>
<circle cx="191.6" cy="381.4" r="1.55" fill="#f84343" stroke="#1a1a1a" stroke-width="0.8"/>
<circle cx="190.1" cy="388.5" r="1.55" fill="#f84343" stroke="#1a1a1a" stroke-width="0.8"/>
<circle cx="193.1" cy="387.5" r="1.55" fill="#f84343" stroke="#1a1a1a" stroke-width="0.8"/>
<circle cx="191.6" cy="404.6" r="1.55" fill="#f84343" stroke="#1a1a1a" stroke-width="0.8"/>
<circle cx="191.6" cy="412.6" r="1.55" fill="#f84343" stroke="#1a1a1a" stroke-width="0.8"/>
<path d="M258.5 290.5V449M258.5 449H444.4" stroke="#141414" stroke-width="1.3" fill="none"/>
<path d="M254 290.5H258.5" stroke="#141414" stroke-width="1.2"/>
<text x="252.9" y="293.58" font-size="8.6" font-weight="bold" text-anchor="end" style="stroke-width:0.12px">1.0</text>
<path d="M254 343.33H258.5" stroke="#141414" stroke-width="1.2"/>
<text x="252.9" y="346.41" font-size="8.6" font-weight="bold" text-anchor="end" style="stroke-width:0.12px">0.9</text>
<path d="M254 396.17H258.5" stroke="#141414" stroke-width="1.2"/>
<text x="252.9" y="399.25" font-size="8.6" font-weight="bold" text-anchor="end" style="stroke-width:0.12px">0.8</text>
<path d="M254 449H258.5" stroke="#141414" stroke-width="1.2"/>
<text x="252.9" y="452.08" font-size="8.6" font-weight="bold" text-anchor="end" style="stroke-width:0.12px">0.7</text>
<path d="M289.6 339.6V356.25M289.6 387.9V432.2M285.9 339.6H293.3M285.9 432.2H293.3" stroke="#141414" stroke-width="1.2" fill="none"/>
<rect x="282.9" y="356.55" width="13.4" height="31.05" fill="#f84343" stroke="#141414" stroke-width="1.3"/>
<path d="M282.9 364.1H296.3" stroke="#141414" stroke-width="1.3"/>
<circle cx="270.75" cy="341.6" r="1.55" fill="#f84343" stroke="#1a1a1a" stroke-width="0.8"/>
<circle cx="274.1" cy="339.6" r="1.55" fill="#f84343" stroke="#1a1a1a" stroke-width="0.8"/>
<circle cx="277.25" cy="342.1" r="1.55" fill="#f84343" stroke="#1a1a1a" stroke-width="0.8"/>
<circle cx="274.1" cy="349.75" r="1.55" fill="#f84343" stroke="#1a1a1a" stroke-width="0.8"/>
<circle cx="274.1" cy="354" r="1.55" fill="#f84343" stroke="#1a1a1a" stroke-width="0.8"/>
<circle cx="274.1" cy="360" r="1.55" fill="#f84343" stroke="#1a1a1a" stroke-width="0.8"/>
<circle cx="267.9" cy="363.75" r="1.55" fill="#f84343" stroke="#1a1a1a" stroke-width="0.8"/>
<circle cx="271" cy="362.75" r="1.55" fill="#f84343" stroke="#1a1a1a" stroke-width="0.8"/>
<circle cx="274.1" cy="363.4" r="1.55" fill="#f84343" stroke="#1a1a1a" stroke-width="0.8"/>
<circle cx="277.25" cy="362.5" r="1.55" fill="#f84343" stroke="#1a1a1a" stroke-width="0.8"/>
<circle cx="271" cy="366.25" r="1.55" fill="#f84343" stroke="#1a1a1a" stroke-width="0.8"/>
<circle cx="277.25" cy="366.5" r="1.55" fill="#f84343" stroke="#1a1a1a" stroke-width="0.8"/>
<circle cx="280.4" cy="365.4" r="1.55" fill="#f84343" stroke="#1a1a1a" stroke-width="0.8"/>
<circle cx="274.1" cy="376.9" r="1.55" fill="#f84343" stroke="#1a1a1a" stroke-width="0.8"/>
<circle cx="274.1" cy="380.9" r="1.55" fill="#f84343" stroke="#1a1a1a" stroke-width="0.8"/>
<circle cx="271" cy="391" r="1.55" fill="#f84343" stroke="#1a1a1a" stroke-width="0.8"/>
<circle cx="274.1" cy="391.5" r="1.55" fill="#f84343" stroke="#1a1a1a" stroke-width="0.8"/>
<circle cx="274.1" cy="404.75" r="1.55" fill="#f84343" stroke="#1a1a1a" stroke-width="0.8"/>
<circle cx="274" cy="425" r="1.55" fill="#f84343" stroke="#1a1a1a" stroke-width="0.8"/>
<circle cx="274" cy="432.1" r="1.55" fill="#f84343" stroke="#1a1a1a" stroke-width="0.8"/>
<path d="M335.8 326.9V348.4M335.8 365.25V373.5M332.1 326.9H339.5M332.1 373.5H339.5" stroke="#141414" stroke-width="1.2" fill="none"/>
<rect x="328.8" y="348.7" width="14" height="16.25" fill="#f84343" stroke="#141414" stroke-width="1.3"/>
<path d="M328.8 357.75H342.8" stroke="#141414" stroke-width="1.3"/>
<circle cx="320.25" cy="326.6" r="1.55" fill="#f84343" stroke="#1a1a1a" stroke-width="0.8"/>
<circle cx="320.25" cy="331.5" r="1.55" fill="#f84343" stroke="#1a1a1a" stroke-width="0.8"/>
<circle cx="320.25" cy="335.9" r="1.55" fill="#f84343" stroke="#1a1a1a" stroke-width="0.8"/>
<circle cx="320.25" cy="341" r="1.55" fill="#f84343" stroke="#1a1a1a" stroke-width="0.8"/>
<circle cx="318.4" cy="347.9" r="1.55" fill="#f84343" stroke="#1a1a1a" stroke-width="0.8"/>
<circle cx="322.5" cy="347.9" r="1.55" fill="#f84343" stroke="#1a1a1a" stroke-width="0.8"/>
<circle cx="318.4" cy="352.25" r="1.55" fill="#f84343" stroke="#1a1a1a" stroke-width="0.8"/>
<circle cx="322.5" cy="352.25" r="1.55" fill="#f84343" stroke="#1a1a1a" stroke-width="0.8"/>
<circle cx="314.1" cy="357.25" r="1.55" fill="#f84343" stroke="#1a1a1a" stroke-width="0.8"/>
<circle cx="318.4" cy="356.25" r="1.55" fill="#f84343" stroke="#1a1a1a" stroke-width="0.8"/>
<circle cx="322.5" cy="358.1" r="1.55" fill="#f84343" stroke="#1a1a1a" stroke-width="0.8"/>
<circle cx="314.1" cy="363.1" r="1.55" fill="#f84343" stroke="#1a1a1a" stroke-width="0.8"/>
<circle cx="318.4" cy="361.9" r="1.55" fill="#f84343" stroke="#1a1a1a" stroke-width="0.8"/>
<circle cx="322.5" cy="363.75" r="1.55" fill="#f84343" stroke="#1a1a1a" stroke-width="0.8"/>
<circle cx="326.6" cy="361.9" r="1.55" fill="#f84343" stroke="#1a1a1a" stroke-width="0.8"/>
<circle cx="318.4" cy="366.9" r="1.55" fill="#f84343" stroke="#1a1a1a" stroke-width="0.8"/>
<circle cx="316.25" cy="371.25" r="1.55" fill="#f84343" stroke="#1a1a1a" stroke-width="0.8"/>
<circle cx="320.25" cy="373.5" r="1.55" fill="#f84343" stroke="#1a1a1a" stroke-width="0.8"/>
<circle cx="324.4" cy="373.5" r="1.55" fill="#f84343" stroke="#1a1a1a" stroke-width="0.8"/>
<circle cx="320.4" cy="399.2" r="1.55" fill="#f84343" stroke="#1a1a1a" stroke-width="0.8"/>
<path d="M382.38 332.25V354M382.38 375.3V400.7M378.68 332.25H386.07M378.68 400.7H386.07" stroke="#141414" stroke-width="1.2" fill="none"/>
<rect x="375.3" y="354.3" width="14.15" height="20.7" fill="#f84343" stroke="#141414" stroke-width="1.3"/>
<path d="M375.3 361.25H389.45" stroke="#141414" stroke-width="1.3"/>
<circle cx="366.6" cy="332.25" r="1.55" fill="#f84343" stroke="#1a1a1a" stroke-width="0.8"/>
<circle cx="364.6" cy="339.1" r="1.55" fill="#f84343" stroke="#1a1a1a" stroke-width="0.8"/>
<circle cx="368.75" cy="341.6" r="1.55" fill="#f84343" stroke="#1a1a1a" stroke-width="0.8"/>
<circle cx="368.75" cy="349.6" r="1.55" fill="#f84343" stroke="#1a1a1a" stroke-width="0.8"/>
<circle cx="360.6" cy="354" r="1.55" fill="#f84343" stroke="#1a1a1a" stroke-width="0.8"/>
<circle cx="364.6" cy="352.25" r="1.55" fill="#f84343" stroke="#1a1a1a" stroke-width="0.8"/>
<circle cx="364.6" cy="357.5" r="1.55" fill="#f84343" stroke="#1a1a1a" stroke-width="0.8"/>
<circle cx="368.75" cy="356.25" r="1.55" fill="#f84343" stroke="#1a1a1a" stroke-width="0.8"/>
<circle cx="372.75" cy="354" r="1.55" fill="#f84343" stroke="#1a1a1a" stroke-width="0.8"/>
<circle cx="360.6" cy="363.1" r="1.55" fill="#f84343" stroke="#1a1a1a" stroke-width="0.8"/>
<circle cx="364.6" cy="362.1" r="1.55" fill="#f84343" stroke="#1a1a1a" stroke-width="0.8"/>
<circle cx="368.75" cy="365" r="1.55" fill="#f84343" stroke="#1a1a1a" stroke-width="0.8"/>
<circle cx="372.75" cy="360.25" r="1.55" fill="#f84343" stroke="#1a1a1a" stroke-width="0.8"/>
<circle cx="372.75" cy="364.1" r="1.55" fill="#f84343" stroke="#1a1a1a" stroke-width="0.8"/>
<circle cx="364.5" cy="376.1" r="1.55" fill="#f84343" stroke="#1a1a1a" stroke-width="0.8"/>
<circle cx="368.6" cy="377.6" r="1.55" fill="#f84343" stroke="#1a1a1a" stroke-width="0.8"/>
<circle cx="372.7" cy="374.8" r="1.55" fill="#f84343" stroke="#1a1a1a" stroke-width="0.8"/>
<circle cx="366.6" cy="383.4" r="1.55" fill="#f84343" stroke="#1a1a1a" stroke-width="0.8"/>
<circle cx="366.6" cy="400.9" r="1.55" fill="#f84343" stroke="#1a1a1a" stroke-width="0.8"/>
<circle cx="366.6" cy="419.6" r="1.55" fill="#f84343" stroke="#1a1a1a" stroke-width="0.8"/>
<path d="M428.4 341.3V358.7M428.4 395.3V443.5M424.7 341.3H432.1M424.7 443.5H432.1" stroke="#141414" stroke-width="1.2" fill="none"/>
<rect x="421.6" y="359" width="13.6" height="36" fill="#f84343" stroke="#141414" stroke-width="1.3"/>
<path d="M421.6 365.5H435.2" stroke="#141414" stroke-width="1.3"/>
<circle cx="413" cy="340.8" r="1.55" fill="#f84343" stroke="#1a1a1a" stroke-width="0.8"/>
<circle cx="413" cy="344.2" r="1.55" fill="#f84343" stroke="#1a1a1a" stroke-width="0.8"/>
<circle cx="406.7" cy="350" r="1.55" fill="#f84343" stroke="#1a1a1a" stroke-width="0.8"/>
<circle cx="413" cy="352.2" r="1.55" fill="#f84343" stroke="#1a1a1a" stroke-width="0.8"/>
<circle cx="406.7" cy="356.7" r="1.55" fill="#f84343" stroke="#1a1a1a" stroke-width="0.8"/>
<circle cx="406.7" cy="362.8" r="1.55" fill="#f84343" stroke="#1a1a1a" stroke-width="0.8"/>
<circle cx="406.7" cy="366.2" r="1.55" fill="#f84343" stroke="#1a1a1a" stroke-width="0.8"/>
<circle cx="413" cy="361.7" r="1.55" fill="#f84343" stroke="#1a1a1a" stroke-width="0.8"/>
<circle cx="413" cy="365.5" r="1.55" fill="#f84343" stroke="#1a1a1a" stroke-width="0.8"/>
<circle cx="419.2" cy="359.7" r="1.55" fill="#f84343" stroke="#1a1a1a" stroke-width="0.8"/>
<circle cx="419.2" cy="362.8" r="1.55" fill="#f84343" stroke="#1a1a1a" stroke-width="0.8"/>
<circle cx="413" cy="370" r="1.55" fill="#f84343" stroke="#1a1a1a" stroke-width="0.8"/>
<circle cx="413" cy="374.7" r="1.55" fill="#f84343" stroke="#1a1a1a" stroke-width="0.8"/>
<circle cx="413" cy="385.8" r="1.55" fill="#f84343" stroke="#1a1a1a" stroke-width="0.8"/>
<circle cx="413" cy="390.3" r="1.55" fill="#f84343" stroke="#1a1a1a" stroke-width="0.8"/>
<circle cx="413" cy="397.5" r="1.55" fill="#f84343" stroke="#1a1a1a" stroke-width="0.8"/>
<circle cx="413" cy="403.3" r="1.55" fill="#f84343" stroke="#1a1a1a" stroke-width="0.8"/>
<circle cx="413" cy="407.8" r="1.55" fill="#f84343" stroke="#1a1a1a" stroke-width="0.8"/>
<circle cx="412.9" cy="443.4" r="1.55" fill="#f84343" stroke="#1a1a1a" stroke-width="0.8"/>
<path d="M486.5 289.4V449.3M486.5 449.3H673.6" stroke="#141414" stroke-width="1.3" fill="none"/>
<path d="M482 289.4H486.5" stroke="#141414" stroke-width="1.2"/>
<text x="480.9" y="292.48" font-size="8.6" font-weight="bold" text-anchor="end" style="stroke-width:0.12px">1.0</text>
<path d="M482 342.7H486.5" stroke="#141414" stroke-width="1.2"/>
<text x="480.9" y="345.78" font-size="8.6" font-weight="bold" text-anchor="end" style="stroke-width:0.12px">0.9</text>
<path d="M482 396H486.5" stroke="#141414" stroke-width="1.2"/>
<text x="480.9" y="399.08" font-size="8.6" font-weight="bold" text-anchor="end" style="stroke-width:0.12px">0.8</text>
<path d="M482 449.3H486.5" stroke="#141414" stroke-width="1.2"/>
<text x="480.9" y="452.38" font-size="8.6" font-weight="bold" text-anchor="end" style="stroke-width:0.12px">0.7</text>
<path d="M517.55 327.6V329.6M517.55 347.3V350.8M513.85 327.6H521.25M513.85 350.8H521.25" stroke="#141414" stroke-width="1.2" fill="none"/>
<rect x="510.9" y="329.9" width="13.3" height="17.1" fill="#f84343" stroke="#141414" stroke-width="1.3"/>
<path d="M510.9 337.05H524.2" stroke="#141414" stroke-width="1.3"/>
<circle cx="495.9" cy="327.9" r="1.55" fill="#f84343" stroke="#1a1a1a" stroke-width="0.8"/>
<circle cx="502.1" cy="329.6" r="1.55" fill="#f84343" stroke="#1a1a1a" stroke-width="0.8"/>
<circle cx="508.1" cy="327.3" r="1.55" fill="#f84343" stroke="#1a1a1a" stroke-width="0.8"/>
<circle cx="498.9" cy="333.5" r="1.55" fill="#f84343" stroke="#1a1a1a" stroke-width="0.8"/>
<circle cx="504.8" cy="334.2" r="1.55" fill="#f84343" stroke="#1a1a1a" stroke-width="0.8"/>
<circle cx="495.9" cy="339.7" r="1.55" fill="#f84343" stroke="#1a1a1a" stroke-width="0.8"/>
<circle cx="502.1" cy="341.8" r="1.55" fill="#f84343" stroke="#1a1a1a" stroke-width="0.8"/>
<circle cx="502.1" cy="347.7" r="1.55" fill="#f84343" stroke="#1a1a1a" stroke-width="0.8"/>
<circle cx="508.1" cy="348.9" r="1.55" fill="#f84343" stroke="#1a1a1a" stroke-width="0.8"/>
<circle cx="495.9" cy="350.8" r="1.55" fill="#f84343" stroke="#1a1a1a" stroke-width="0.8"/>
<path d="M564.4 313.5V320.6M564.4 329.8V334.8M560.7 313.5H568.1M560.7 334.8H568.1" stroke="#141414" stroke-width="1.2" fill="none"/>
<rect x="557.7" y="320.9" width="13.4" height="8.6" fill="#f84343" stroke="#141414" stroke-width="1.3"/>
<path d="M557.7 328H571.1" stroke="#141414" stroke-width="1.3"/>
<circle cx="546.5" cy="315.8" r="1.55" fill="#f84343" stroke="#1a1a1a" stroke-width="0.8"/>
<circle cx="550.7" cy="313.5" r="1.55" fill="#f84343" stroke="#1a1a1a" stroke-width="0.8"/>
<circle cx="546.5" cy="321.3" r="1.55" fill="#f84343" stroke="#1a1a1a" stroke-width="0.8"/>
<circle cx="550.7" cy="323.9" r="1.55" fill="#f84343" stroke="#1a1a1a" stroke-width="0.8"/>
<circle cx="542.3" cy="328" r="1.55" fill="#f84343" stroke="#1a1a1a" stroke-width="0.8"/>
<circle cx="546.5" cy="330.2" r="1.55" fill="#f84343" stroke="#1a1a1a" stroke-width="0.8"/>
<circle cx="550.7" cy="327.3" r="1.55" fill="#f84343" stroke="#1a1a1a" stroke-width="0.8"/>
<circle cx="550.7" cy="331.1" r="1.55" fill="#f84343" stroke="#1a1a1a" stroke-width="0.8"/>
<circle cx="554.7" cy="328" r="1.55" fill="#f84343" stroke="#1a1a1a" stroke-width="0.8"/>
<circle cx="548.4" cy="334.8" r="1.55" fill="#f84343" stroke="#1a1a1a" stroke-width="0.8"/>
<path d="M610.85 324.9V332.4M610.85 354.5V368.4M607.15 324.9H614.55M607.15 368.4H614.55" stroke="#141414" stroke-width="1.2" fill="none"/>
<rect x="603.7" y="332.7" width="14.3" height="21.5" fill="#f84343" stroke="#141414" stroke-width="1.3"/>
<path d="M603.7 338.5H618" stroke="#141414" stroke-width="1.3"/>
<circle cx="592.1" cy="325.9" r="1.55" fill="#f84343" stroke="#1a1a1a" stroke-width="0.8"/>
<circle cx="598.2" cy="324.9" r="1.55" fill="#f84343" stroke="#1a1a1a" stroke-width="0.8"/>
<circle cx="589" cy="333.4" r="1.55" fill="#f84343" stroke="#1a1a1a" stroke-width="0.8"/>
<circle cx="595.2" cy="335.7" r="1.55" fill="#f84343" stroke="#1a1a1a" stroke-width="0.8"/>
<circle cx="601.3" cy="335.1" r="1.55" fill="#f84343" stroke="#1a1a1a" stroke-width="0.8"/>
<circle cx="595.2" cy="340.6" r="1.55" fill="#f84343" stroke="#1a1a1a" stroke-width="0.8"/>
<circle cx="595.2" cy="346.3" r="1.55" fill="#f84343" stroke="#1a1a1a" stroke-width="0.8"/>
<circle cx="592.1" cy="355.1" r="1.55" fill="#f84343" stroke="#1a1a1a" stroke-width="0.8"/>
<circle cx="598.2" cy="355.1" r="1.55" fill="#f84343" stroke="#1a1a1a" stroke-width="0.8"/>
<circle cx="595.2" cy="368.4" r="1.55" fill="#f84343" stroke="#1a1a1a" stroke-width="0.8"/>
<path d="M657.6 327.4V329.2M657.6 333.4V334.9M653.9 327.4H661.3M653.9 334.9H661.3" stroke="#141414" stroke-width="1.2" fill="none"/>
<rect x="650.7" y="329.5" width="13.8" height="3.6" fill="#6b1a1a" stroke="#141414" stroke-width="1.3"/>
<path d="M650.7 331.3H664.5" stroke="#141414" stroke-width="1.3"/>
<circle cx="635.7" cy="329" r="1.55" fill="#f84343" stroke="#1a1a1a" stroke-width="0.8"/>
<circle cx="635.7" cy="332.8" r="1.55" fill="#f84343" stroke="#1a1a1a" stroke-width="0.8"/>
<circle cx="639.6" cy="330" r="1.55" fill="#f84343" stroke="#1a1a1a" stroke-width="0.8"/>
<circle cx="639.6" cy="334.1" r="1.55" fill="#f84343" stroke="#1a1a1a" stroke-width="0.8"/>
<circle cx="643.8" cy="329.4" r="1.55" fill="#f84343" stroke="#1a1a1a" stroke-width="0.8"/>
<circle cx="643.8" cy="332.8" r="1.55" fill="#f84343" stroke="#1a1a1a" stroke-width="0.8"/>
<circle cx="647.9" cy="327.1" r="1.55" fill="#f84343" stroke="#1a1a1a" stroke-width="0.8"/>
<circle cx="647.9" cy="331.4" r="1.55" fill="#f84343" stroke="#1a1a1a" stroke-width="0.8"/>
<circle cx="647.9" cy="335.1" r="1.55" fill="#f84343" stroke="#1a1a1a" stroke-width="0.8"/>
<circle cx="641.8" cy="348.4" r="1.55" fill="#f84343" stroke="#1a1a1a" stroke-width="0.8"/>
<path d="M36.3 531.4V691.4M36.3 691.4H223.5" stroke="#141414" stroke-width="1.3" fill="none"/>
<path d="M31.8 531.4H36.3" stroke="#141414" stroke-width="1.2"/>
<text x="30.7" y="534.48" font-size="8.6" font-weight="bold" text-anchor="end" style="stroke-width:0.12px">1.0</text>
<path d="M31.8 584.73H36.3" stroke="#141414" stroke-width="1.2"/>
<text x="30.7" y="587.81" font-size="8.6" font-weight="bold" text-anchor="end" style="stroke-width:0.12px">0.9</text>
<path d="M31.8 638.07H36.3" stroke="#141414" stroke-width="1.2"/>
<text x="30.7" y="641.15" font-size="8.6" font-weight="bold" text-anchor="end" style="stroke-width:0.12px">0.8</text>
<path d="M31.8 691.4H36.3" stroke="#141414" stroke-width="1.2"/>
<text x="30.7" y="694.48" font-size="8.6" font-weight="bold" text-anchor="end" style="stroke-width:0.12px">0.7</text>
<path d="M67.5 570.5V573.1M67.5 577.5V584M63.8 570.5H71.2M63.8 584H71.2" stroke="#141414" stroke-width="1.2" fill="none"/>
<rect x="60.3" y="573.4" width="14.4" height="3.8" fill="#dadada" stroke="#141414" stroke-width="1.3"/>
<path d="M60.3 575.3H74.7" stroke="#141414" stroke-width="1.3"/>
<circle cx="45.5" cy="573.7" r="1.55" fill="#ececec" stroke="#1a1a1a" stroke-width="0.8"/>
<circle cx="47" cy="572.6" r="1.55" fill="#ececec" stroke="#1a1a1a" stroke-width="0.8"/>
<circle cx="48.8" cy="571.4" r="1.55" fill="#ececec" stroke="#1a1a1a" stroke-width="0.8"/>
<circle cx="52.6" cy="569.3" r="1.55" fill="#ececec" stroke="#1a1a1a" stroke-width="0.8"/>
<circle cx="50.5" cy="573.4" r="1.55" fill="#ececec" stroke="#1a1a1a" stroke-width="0.8"/>
<circle cx="52.6" cy="572.3" r="1.55" fill="#ececec" stroke="#1a1a1a" stroke-width="0.8"/>
<circle cx="54.6" cy="573.4" r="1.55" fill="#ececec" stroke="#1a1a1a" stroke-width="0.8"/>
<circle cx="57.8" cy="572" r="1.55" fill="#ececec" stroke="#1a1a1a" stroke-width="0.8"/>
<circle cx="48.5" cy="575.8" r="1.55" fill="#ececec" stroke="#1a1a1a" stroke-width="0.8"/>
<circle cx="50.8" cy="576.9" r="1.55" fill="#ececec" stroke="#1a1a1a" stroke-width="0.8"/>
<circle cx="52.6" cy="574.3" r="1.55" fill="#ececec" stroke="#1a1a1a" stroke-width="0.8"/>
<circle cx="57.8" cy="575.1" r="1.55" fill="#ececec" stroke="#1a1a1a" stroke-width="0.8"/>
<circle cx="47" cy="579" r="1.55" fill="#ececec" stroke="#1a1a1a" stroke-width="0.8"/>
<circle cx="49.3" cy="578.1" r="1.55" fill="#ececec" stroke="#1a1a1a" stroke-width="0.8"/>
<circle cx="54.3" cy="578" r="1.55" fill="#ececec" stroke="#1a1a1a" stroke-width="0.8"/>
<circle cx="51.1" cy="580.7" r="1.55" fill="#ececec" stroke="#1a1a1a" stroke-width="0.8"/>
<circle cx="53.1" cy="583.6" r="1.55" fill="#ececec" stroke="#1a1a1a" stroke-width="0.8"/>
<circle cx="50.8" cy="585.7" r="1.55" fill="#ececec" stroke="#1a1a1a" stroke-width="0.8"/>
<circle cx="56.1" cy="576.6" r="1.55" fill="#ececec" stroke="#1a1a1a" stroke-width="0.8"/>
<circle cx="45.3" cy="575.2" r="1.55" fill="#ececec" stroke="#1a1a1a" stroke-width="0.8"/>
<path d="M114 564.9V566.7M114 571.6V577.3M110.3 564.9H117.7M110.3 577.3H117.7" stroke="#141414" stroke-width="1.2" fill="none"/>
<rect x="106.5" y="567" width="15" height="4.3" fill="#dadada" stroke="#141414" stroke-width="1.3"/>
<path d="M106.5 568H121.5" stroke="#141414" stroke-width="1.3"/>
<circle cx="91.9" cy="565.9" r="1.55" fill="#ececec" stroke="#1a1a1a" stroke-width="0.8"/>
<circle cx="93.8" cy="565.2" r="1.55" fill="#ececec" stroke="#1a1a1a" stroke-width="0.8"/>
<circle cx="96.7" cy="565.9" r="1.55" fill="#ececec" stroke="#1a1a1a" stroke-width="0.8"/>
<circle cx="100.3" cy="564.5" r="1.55" fill="#ececec" stroke="#1a1a1a" stroke-width="0.8"/>
<circle cx="104.7" cy="564.1" r="1.55" fill="#ececec" stroke="#1a1a1a" stroke-width="0.8"/>
<circle cx="103.2" cy="566.6" r="1.55" fill="#ececec" stroke="#1a1a1a" stroke-width="0.8"/>
<circle cx="95.2" cy="568.1" r="1.55" fill="#ececec" stroke="#1a1a1a" stroke-width="0.8"/>
<circle cx="97.8" cy="567.4" r="1.55" fill="#ececec" stroke="#1a1a1a" stroke-width="0.8"/>
<circle cx="100" cy="568.8" r="1.55" fill="#ececec" stroke="#1a1a1a" stroke-width="0.8"/>
<circle cx="102.2" cy="567.7" r="1.55" fill="#ececec" stroke="#1a1a1a" stroke-width="0.8"/>
<circle cx="96" cy="570.7" r="1.55" fill="#ececec" stroke="#1a1a1a" stroke-width="0.8"/>
<circle cx="98.1" cy="571.8" r="1.55" fill="#ececec" stroke="#1a1a1a" stroke-width="0.8"/>
<circle cx="100.7" cy="570.7" r="1.55" fill="#ececec" stroke="#1a1a1a" stroke-width="0.8"/>
<circle cx="95.6" cy="573.6" r="1.55" fill="#ececec" stroke="#1a1a1a" stroke-width="0.8"/>
<circle cx="98.5" cy="573.9" r="1.55" fill="#ececec" stroke="#1a1a1a" stroke-width="0.8"/>
<circle cx="98.1" cy="577.6" r="1.55" fill="#ececec" stroke="#1a1a1a" stroke-width="0.8"/>
<circle cx="99.2" cy="575.8" r="1.55" fill="#ececec" stroke="#1a1a1a" stroke-width="0.8"/>
<circle cx="93" cy="566.6" r="1.55" fill="#ececec" stroke="#1a1a1a" stroke-width="0.8"/>
<circle cx="101.8" cy="572.1" r="1.55" fill="#ececec" stroke="#1a1a1a" stroke-width="0.8"/>
<circle cx="97" cy="569.2" r="1.55" fill="#ececec" stroke="#1a1a1a" stroke-width="0.8"/>
<path d="M160.55 567.4V571.2M160.55 576.4V583.5M156.85 567.4H164.25M156.85 583.5H164.25" stroke="#141414" stroke-width="1.2" fill="none"/>
<rect x="153.5" y="571.5" width="14.1" height="4.6" fill="#dadada" stroke="#141414" stroke-width="1.3"/>
<path d="M153.5 573.1H167.6" stroke="#141414" stroke-width="1.3"/>
<circle cx="142.4" cy="566.3" r="1.55" fill="#ececec" stroke="#1a1a1a" stroke-width="0.8"/>
<circle cx="140.6" cy="568.5" r="1.55" fill="#ececec" stroke="#1a1a1a" stroke-width="0.8"/>
<circle cx="138.8" cy="570.7" r="1.55" fill="#ececec" stroke="#1a1a1a" stroke-width="0.8"/>
<circle cx="142.8" cy="569.2" r="1.55" fill="#ececec" stroke="#1a1a1a" stroke-width="0.8"/>
<circle cx="141" cy="571.4" r="1.55" fill="#ececec" stroke="#1a1a1a" stroke-width="0.8"/>
<circle cx="145" cy="569.9" r="1.55" fill="#ececec" stroke="#1a1a1a" stroke-width="0.8"/>
<circle cx="147.5" cy="570.7" r="1.55" fill="#ececec" stroke="#1a1a1a" stroke-width="0.8"/>
<circle cx="149.7" cy="569.2" r="1.55" fill="#ececec" stroke="#1a1a1a" stroke-width="0.8"/>
<circle cx="151.5" cy="568.5" r="1.55" fill="#ececec" stroke="#1a1a1a" stroke-width="0.8"/>
<circle cx="143.1" cy="572.1" r="1.55" fill="#ececec" stroke="#1a1a1a" stroke-width="0.8"/>
<circle cx="141" cy="573.6" r="1.55" fill="#ececec" stroke="#1a1a1a" stroke-width="0.8"/>
<circle cx="144.6" cy="574.3" r="1.55" fill="#ececec" stroke="#1a1a1a" stroke-width="0.8"/>
<circle cx="147.9" cy="573.6" r="1.55" fill="#ececec" stroke="#1a1a1a" stroke-width="0.8"/>
<circle cx="150.8" cy="572.8" r="1.55" fill="#ececec" stroke="#1a1a1a" stroke-width="0.8"/>
<circle cx="146.1" cy="576.5" r="1.55" fill="#ececec" stroke="#1a1a1a" stroke-width="0.8"/>
<circle cx="142" cy="579.4" r="1.55" fill="#ececec" stroke="#1a1a1a" stroke-width="0.8"/>
<circle cx="144.6" cy="579.4" r="1.55" fill="#ececec" stroke="#1a1a1a" stroke-width="0.8"/>
<circle cx="147.9" cy="579.4" r="1.55" fill="#ececec" stroke="#1a1a1a" stroke-width="0.8"/>
<circle cx="145.7" cy="582" r="1.55" fill="#ececec" stroke="#1a1a1a" stroke-width="0.8"/>
<circle cx="143.9" cy="584.2" r="1.55" fill="#ececec" stroke="#1a1a1a" stroke-width="0.8"/>
<path d="M207.4 574.5V577.8M207.4 581.7V586.4M203.7 574.5H211.1M203.7 586.4H211.1" stroke="#141414" stroke-width="1.2" fill="none"/>
<rect x="200.2" y="578.1" width="14.4" height="3.3" fill="#dadada" stroke="#141414" stroke-width="1.3"/>
<path d="M200.2 578.9H214.6" stroke="#141414" stroke-width="1.3"/>
<circle cx="184.9" cy="577.2" r="1.55" fill="#ececec" stroke="#1a1a1a" stroke-width="0.8"/>
<circle cx="186.7" cy="579" r="1.55" fill="#ececec" stroke="#1a1a1a" stroke-width="0.8"/>
<circle cx="190.3" cy="573.9" r="1.55" fill="#ececec" stroke="#1a1a1a" stroke-width="0.8"/>
<circle cx="190" cy="576.4" r="1.55" fill="#ececec" stroke="#1a1a1a" stroke-width="0.8"/>
<circle cx="192.9" cy="576.4" r="1.55" fill="#ececec" stroke="#1a1a1a" stroke-width="0.8"/>
<circle cx="191.1" cy="578.6" r="1.55" fill="#ececec" stroke="#1a1a1a" stroke-width="0.8"/>
<circle cx="194" cy="579" r="1.55" fill="#ececec" stroke="#1a1a1a" stroke-width="0.8"/>
<circle cx="197.6" cy="577.5" r="1.55" fill="#ececec" stroke="#1a1a1a" stroke-width="0.8"/>
<circle cx="188.9" cy="580.4" r="1.55" fill="#ececec" stroke="#1a1a1a" stroke-width="0.8"/>
<circle cx="191.8" cy="581.2" r="1.55" fill="#ececec" stroke="#1a1a1a" stroke-width="0.8"/>
<circle cx="194" cy="581.9" r="1.55" fill="#ececec" stroke="#1a1a1a" stroke-width="0.8"/>
<circle cx="190.7" cy="583.4" r="1.55" fill="#ececec" stroke="#1a1a1a" stroke-width="0.8"/>
<circle cx="192.5" cy="584.1" r="1.55" fill="#ececec" stroke="#1a1a1a" stroke-width="0.8"/>
<circle cx="190.7" cy="586.3" r="1.55" fill="#ececec" stroke="#1a1a1a" stroke-width="0.8"/>
<circle cx="192.2" cy="588.8" r="1.55" fill="#ececec" stroke="#1a1a1a" stroke-width="0.8"/>
<circle cx="191.4" cy="593.2" r="1.55" fill="#ececec" stroke="#1a1a1a" stroke-width="0.8"/>
<circle cx="191.1" cy="591.4" r="1.55" fill="#ececec" stroke="#1a1a1a" stroke-width="0.8"/>
<circle cx="187.8" cy="577.9" r="1.55" fill="#ececec" stroke="#1a1a1a" stroke-width="0.8"/>
<circle cx="193.2" cy="580.4" r="1.55" fill="#ececec" stroke="#1a1a1a" stroke-width="0.8"/>
<circle cx="189.6" cy="581.9" r="1.55" fill="#ececec" stroke="#1a1a1a" stroke-width="0.8"/>
<path d="M261.3 531.5V691.5M261.3 691.5H448.6" stroke="#141414" stroke-width="1.3" fill="none"/>
<path d="M256.8 531.5H261.3" stroke="#141414" stroke-width="1.2"/>
<text x="255.7" y="534.58" font-size="8.6" font-weight="bold" text-anchor="end" style="stroke-width:0.12px">1.0</text>
<path d="M256.8 584.83H261.3" stroke="#141414" stroke-width="1.2"/>
<text x="255.7" y="587.91" font-size="8.6" font-weight="bold" text-anchor="end" style="stroke-width:0.12px">0.9</text>
<path d="M256.8 638.17H261.3" stroke="#141414" stroke-width="1.2"/>
<text x="255.7" y="641.25" font-size="8.6" font-weight="bold" text-anchor="end" style="stroke-width:0.12px">0.8</text>
<path d="M256.8 691.5H261.3" stroke="#141414" stroke-width="1.2"/>
<text x="255.7" y="694.58" font-size="8.6" font-weight="bold" text-anchor="end" style="stroke-width:0.12px">0.7</text>
<path d="M292.6 575.8V577.9M292.6 584.8V587.7M288.9 575.8H296.3M288.9 587.7H296.3" stroke="#141414" stroke-width="1.2" fill="none"/>
<rect x="285.6" y="578.2" width="14" height="6.3" fill="#dadada" stroke="#141414" stroke-width="1.3"/>
<path d="M285.6 580.3H299.6" stroke="#141414" stroke-width="1.3"/>
<circle cx="270.5" cy="577.5" r="1.55" fill="#ececec" stroke="#1a1a1a" stroke-width="0.8"/>
<circle cx="272.7" cy="576.1" r="1.55" fill="#ececec" stroke="#1a1a1a" stroke-width="0.8"/>
<circle cx="276" cy="575.3" r="1.55" fill="#ececec" stroke="#1a1a1a" stroke-width="0.8"/>
<circle cx="280.7" cy="575" r="1.55" fill="#ececec" stroke="#1a1a1a" stroke-width="0.8"/>
<circle cx="283.2" cy="577.5" r="1.55" fill="#ececec" stroke="#1a1a1a" stroke-width="0.8"/>
<circle cx="273.8" cy="578.6" r="1.55" fill="#ececec" stroke="#1a1a1a" stroke-width="0.8"/>
<circle cx="275.2" cy="579" r="1.55" fill="#ececec" stroke="#1a1a1a" stroke-width="0.8"/>
<circle cx="278.1" cy="577.9" r="1.55" fill="#ececec" stroke="#1a1a1a" stroke-width="0.8"/>
<circle cx="281.1" cy="577.5" r="1.55" fill="#ececec" stroke="#1a1a1a" stroke-width="0.8"/>
<circle cx="277" cy="581.5" r="1.55" fill="#ececec" stroke="#1a1a1a" stroke-width="0.8"/>
<circle cx="279.2" cy="580.8" r="1.55" fill="#ececec" stroke="#1a1a1a" stroke-width="0.8"/>
<circle cx="274.5" cy="583.4" r="1.55" fill="#ececec" stroke="#1a1a1a" stroke-width="0.8"/>
<circle cx="276.7" cy="584.1" r="1.55" fill="#ececec" stroke="#1a1a1a" stroke-width="0.8"/>
<circle cx="278.9" cy="583.7" r="1.55" fill="#ececec" stroke="#1a1a1a" stroke-width="0.8"/>
<circle cx="273.8" cy="585.5" r="1.55" fill="#ececec" stroke="#1a1a1a" stroke-width="0.8"/>
<circle cx="281.1" cy="585.5" r="1.55" fill="#ececec" stroke="#1a1a1a" stroke-width="0.8"/>
<circle cx="272.3" cy="587.7" r="1.55" fill="#ececec" stroke="#1a1a1a" stroke-width="0.8"/>
<circle cx="279.2" cy="588.1" r="1.55" fill="#ececec" stroke="#1a1a1a" stroke-width="0.8"/>
<circle cx="276" cy="585.5" r="1.55" fill="#ececec" stroke="#1a1a1a" stroke-width="0.8"/>
<circle cx="281.4" cy="576.4" r="1.55" fill="#ececec" stroke="#1a1a1a" stroke-width="0.8"/>
<path d="M339.25 565.8V568.1M339.25 572.6V576.5M335.55 565.8H342.95M335.55 576.5H342.95" stroke="#141414" stroke-width="1.2" fill="none"/>
<rect x="332.2" y="568.4" width="14.1" height="3.9" fill="#dadada" stroke="#141414" stroke-width="1.3"/>
<path d="M332.2 571.3H346.3" stroke="#141414" stroke-width="1.3"/>
<circle cx="316.7" cy="566.3" r="1.55" fill="#ececec" stroke="#1a1a1a" stroke-width="0.8"/>
<circle cx="323.2" cy="565.2" r="1.55" fill="#ececec" stroke="#1a1a1a" stroke-width="0.8"/>
<circle cx="326.9" cy="565.9" r="1.55" fill="#ececec" stroke="#1a1a1a" stroke-width="0.8"/>
<circle cx="330.2" cy="567.7" r="1.55" fill="#ececec" stroke="#1a1a1a" stroke-width="0.8"/>
<circle cx="319.2" cy="568.1" r="1.55" fill="#ececec" stroke="#1a1a1a" stroke-width="0.8"/>
<circle cx="321.8" cy="568.8" r="1.55" fill="#ececec" stroke="#1a1a1a" stroke-width="0.8"/>
<circle cx="324.7" cy="569.2" r="1.55" fill="#ececec" stroke="#1a1a1a" stroke-width="0.8"/>
<circle cx="328.4" cy="567.4" r="1.55" fill="#ececec" stroke="#1a1a1a" stroke-width="0.8"/>
<circle cx="316.7" cy="570.3" r="1.55" fill="#ececec" stroke="#1a1a1a" stroke-width="0.8"/>
<circle cx="320.3" cy="570.7" r="1.55" fill="#ececec" stroke="#1a1a1a" stroke-width="0.8"/>
<circle cx="323.2" cy="571" r="1.55" fill="#ececec" stroke="#1a1a1a" stroke-width="0.8"/>
<circle cx="328" cy="571.8" r="1.55" fill="#ececec" stroke="#1a1a1a" stroke-width="0.8"/>
<circle cx="330.2" cy="571" r="1.55" fill="#ececec" stroke="#1a1a1a" stroke-width="0.8"/>
<circle cx="318.5" cy="572.5" r="1.55" fill="#ececec" stroke="#1a1a1a" stroke-width="0.8"/>
<circle cx="321.8" cy="573.2" r="1.55" fill="#ececec" stroke="#1a1a1a" stroke-width="0.8"/>
<circle cx="325.1" cy="573.6" r="1.55" fill="#ececec" stroke="#1a1a1a" stroke-width="0.8"/>
<circle cx="320.3" cy="575.4" r="1.55" fill="#ececec" stroke="#1a1a1a" stroke-width="0.8"/>
<circle cx="326.5" cy="576.5" r="1.55" fill="#ececec" stroke="#1a1a1a" stroke-width="0.8"/>
<circle cx="323.2" cy="572.1" r="1.55" fill="#ececec" stroke="#1a1a1a" stroke-width="0.8"/>
<circle cx="329.8" cy="569.2" r="1.55" fill="#ececec" stroke="#1a1a1a" stroke-width="0.8"/>
<path d="M385.95 570.5V573.2M385.95 578.4V582.3M382.25 570.5H389.65M382.25 582.3H389.65" stroke="#141414" stroke-width="1.2" fill="none"/>
<rect x="378.6" y="573.5" width="14.7" height="4.6" fill="#dadada" stroke="#141414" stroke-width="1.3"/>
<path d="M378.6 576.5H393.3" stroke="#141414" stroke-width="1.3"/>
<circle cx="363.9" cy="572.5" r="1.55" fill="#ececec" stroke="#1a1a1a" stroke-width="0.8"/>
<circle cx="366.8" cy="572.1" r="1.55" fill="#ececec" stroke="#1a1a1a" stroke-width="0.8"/>
<circle cx="373.4" cy="569.9" r="1.55" fill="#ececec" stroke="#1a1a1a" stroke-width="0.8"/>
<circle cx="371.9" cy="572.1" r="1.55" fill="#ececec" stroke="#1a1a1a" stroke-width="0.8"/>
<circle cx="375.9" cy="572.1" r="1.55" fill="#ececec" stroke="#1a1a1a" stroke-width="0.8"/>
<circle cx="363.9" cy="578" r="1.55" fill="#ececec" stroke="#1a1a1a" stroke-width="0.8"/>
<circle cx="366.8" cy="575" r="1.55" fill="#ececec" stroke="#1a1a1a" stroke-width="0.8"/>
<circle cx="369" cy="576.5" r="1.55" fill="#ececec" stroke="#1a1a1a" stroke-width="0.8"/>
<circle cx="371.2" cy="574.3" r="1.55" fill="#ececec" stroke="#1a1a1a" stroke-width="0.8"/>
<circle cx="373.7" cy="575" r="1.55" fill="#ececec" stroke="#1a1a1a" stroke-width="0.8"/>
<circle cx="376.3" cy="575" r="1.55" fill="#ececec" stroke="#1a1a1a" stroke-width="0.8"/>
<circle cx="366.8" cy="580.1" r="1.55" fill="#ececec" stroke="#1a1a1a" stroke-width="0.8"/>
<circle cx="369.3" cy="578.7" r="1.55" fill="#ececec" stroke="#1a1a1a" stroke-width="0.8"/>
<circle cx="371.9" cy="578.3" r="1.55" fill="#ececec" stroke="#1a1a1a" stroke-width="0.8"/>
<circle cx="374.8" cy="578" r="1.55" fill="#ececec" stroke="#1a1a1a" stroke-width="0.8"/>
<circle cx="373.4" cy="582.3" r="1.55" fill="#ececec" stroke="#1a1a1a" stroke-width="0.8"/>
<circle cx="371.9" cy="580.9" r="1.55" fill="#ececec" stroke="#1a1a1a" stroke-width="0.8"/>
<circle cx="364.6" cy="576.5" r="1.55" fill="#ececec" stroke="#1a1a1a" stroke-width="0.8"/>
<circle cx="368.2" cy="573.2" r="1.55" fill="#ececec" stroke="#1a1a1a" stroke-width="0.8"/>
<circle cx="370.4" cy="579.8" r="1.55" fill="#ececec" stroke="#1a1a1a" stroke-width="0.8"/>
<path d="M432.55 575.5V581.6M432.55 587.5V589.4M428.85 575.5H436.25M428.85 589.4H436.25" stroke="#141414" stroke-width="1.2" fill="none"/>
<rect x="425.4" y="581.9" width="14.3" height="5.3" fill="#dadada" stroke="#141414" stroke-width="1.3"/>
<path d="M425.4 582.9H439.7" stroke="#141414" stroke-width="1.3"/>
<circle cx="416.9" cy="575" r="1.55" fill="#ececec" stroke="#1a1a1a" stroke-width="0.8"/>
<circle cx="414.7" cy="576.1" r="1.55" fill="#ececec" stroke="#1a1a1a" stroke-width="0.8"/>
<circle cx="412.2" cy="579" r="1.55" fill="#ececec" stroke="#1a1a1a" stroke-width="0.8"/>
<circle cx="410" cy="581.5" r="1.55" fill="#ececec" stroke="#1a1a1a" stroke-width="0.8"/>
<circle cx="412.5" cy="581.9" r="1.55" fill="#ececec" stroke="#1a1a1a" stroke-width="0.8"/>
<circle cx="415.1" cy="579.7" r="1.55" fill="#ececec" stroke="#1a1a1a" stroke-width="0.8"/>
<circle cx="417.3" cy="581.9" r="1.55" fill="#ececec" stroke="#1a1a1a" stroke-width="0.8"/>
<circle cx="420.2" cy="581.5" r="1.55" fill="#ececec" stroke="#1a1a1a" stroke-width="0.8"/>
<circle cx="423.1" cy="581.2" r="1.55" fill="#ececec" stroke="#1a1a1a" stroke-width="0.8"/>
<circle cx="414.7" cy="584.1" r="1.55" fill="#ececec" stroke="#1a1a1a" stroke-width="0.8"/>
<circle cx="417.3" cy="585.2" r="1.55" fill="#ececec" stroke="#1a1a1a" stroke-width="0.8"/>
<circle cx="419.8" cy="585.9" r="1.55" fill="#ececec" stroke="#1a1a1a" stroke-width="0.8"/>
<circle cx="413.6" cy="589.2" r="1.55" fill="#ececec" stroke="#1a1a1a" stroke-width="0.8"/>
<circle cx="416.9" cy="589.2" r="1.55" fill="#ececec" stroke="#1a1a1a" stroke-width="0.8"/>
<circle cx="420.2" cy="589.2" r="1.55" fill="#ececec" stroke="#1a1a1a" stroke-width="0.8"/>
<circle cx="411.4" cy="580.4" r="1.55" fill="#ececec" stroke="#1a1a1a" stroke-width="0.8"/>
<circle cx="416.2" cy="583.4" r="1.55" fill="#ececec" stroke="#1a1a1a" stroke-width="0.8"/>
<circle cx="420.9" cy="583.4" r="1.55" fill="#ececec" stroke="#1a1a1a" stroke-width="0.8"/>
<circle cx="414" cy="577.5" r="1.55" fill="#ececec" stroke="#1a1a1a" stroke-width="0.8"/>
<circle cx="418.4" cy="580.4" r="1.55" fill="#ececec" stroke="#1a1a1a" stroke-width="0.8"/>
<path d="M488.6 532.3V693.5M488.6 693.5H677.7" stroke="#141414" stroke-width="1.3" fill="none"/>
<path d="M484.1 532.3H488.6" stroke="#141414" stroke-width="1.2"/>
<text x="483" y="535.38" font-size="8.6" font-weight="bold" text-anchor="end" style="stroke-width:0.12px">1.0</text>
<path d="M484.1 586.03H488.6" stroke="#141414" stroke-width="1.2"/>
<text x="483" y="589.11" font-size="8.6" font-weight="bold" text-anchor="end" style="stroke-width:0.12px">0.9</text>
<path d="M484.1 639.77H488.6" stroke="#141414" stroke-width="1.2"/>
<text x="483" y="642.85" font-size="8.6" font-weight="bold" text-anchor="end" style="stroke-width:0.12px">0.8</text>
<path d="M484.1 693.5H488.6" stroke="#141414" stroke-width="1.2"/>
<text x="483" y="696.58" font-size="8.6" font-weight="bold" text-anchor="end" style="stroke-width:0.12px">0.7</text>
<path d="M520 554.5V555.2M520 561.8V562.4M516.3 554.5H523.7M516.3 562.4H523.7" stroke="#141414" stroke-width="1.2" fill="none"/>
<rect x="512.7" y="555.5" width="14.6" height="6" fill="#dadada" stroke="#141414" stroke-width="1.3"/>
<path d="M512.7 558.5H527.3" stroke="#141414" stroke-width="1.3"/>
<circle cx="497.8" cy="554.9" r="1.55" fill="#ececec" stroke="#1a1a1a" stroke-width="0.8"/>
<circle cx="500.8" cy="554.9" r="1.55" fill="#ececec" stroke="#1a1a1a" stroke-width="0.8"/>
<circle cx="504" cy="554.9" r="1.55" fill="#ececec" stroke="#1a1a1a" stroke-width="0.8"/>
<circle cx="507.2" cy="554.9" r="1.55" fill="#ececec" stroke="#1a1a1a" stroke-width="0.8"/>
<circle cx="510.4" cy="554.9" r="1.55" fill="#ececec" stroke="#1a1a1a" stroke-width="0.8"/>
<circle cx="497.8" cy="561.9" r="1.55" fill="#ececec" stroke="#1a1a1a" stroke-width="0.8"/>
<circle cx="500.8" cy="560.5" r="1.55" fill="#ececec" stroke="#1a1a1a" stroke-width="0.8"/>
<circle cx="504" cy="562.2" r="1.55" fill="#ececec" stroke="#1a1a1a" stroke-width="0.8"/>
<circle cx="507.2" cy="560.5" r="1.55" fill="#ececec" stroke="#1a1a1a" stroke-width="0.8"/>
<circle cx="510.4" cy="563.1" r="1.55" fill="#ececec" stroke="#1a1a1a" stroke-width="0.8"/>
<path d="M567.1 551.2V552M567.1 554.7V555.4M563.4 551.2H570.8M563.4 555.4H570.8" stroke="#141414" stroke-width="1.2" fill="none"/>
<rect x="559.5" y="552.3" width="15.2" height="2.1" fill="#222" stroke="#141414" stroke-width="1.3"/>
<path d="M559.5 553.4H574.7" stroke="#141414" stroke-width="1.3"/>
<circle cx="544.7" cy="551.6" r="1.55" fill="#ececec" stroke="#1a1a1a" stroke-width="0.8"/>
<circle cx="546.4" cy="554.9" r="1.55" fill="#ececec" stroke="#1a1a1a" stroke-width="0.8"/>
<circle cx="548.2" cy="552.5" r="1.55" fill="#ececec" stroke="#1a1a1a" stroke-width="0.8"/>
<circle cx="549.9" cy="554" r="1.55" fill="#ececec" stroke="#1a1a1a" stroke-width="0.8"/>
<circle cx="552.8" cy="551.4" r="1.55" fill="#ececec" stroke="#1a1a1a" stroke-width="0.8"/>
<circle cx="552.8" cy="555.4" r="1.55" fill="#ececec" stroke="#1a1a1a" stroke-width="0.8"/>
<circle cx="554.6" cy="552.5" r="1.55" fill="#ececec" stroke="#1a1a1a" stroke-width="0.8"/>
<circle cx="556.1" cy="551.4" r="1.55" fill="#ececec" stroke="#1a1a1a" stroke-width="0.8"/>
<circle cx="556.4" cy="554.9" r="1.55" fill="#ececec" stroke="#1a1a1a" stroke-width="0.8"/>
<circle cx="551.4" cy="552.5" r="1.55" fill="#ececec" stroke="#1a1a1a" stroke-width="0.8"/>
<path d="M614.35 553.5V557M614.35 566.6V568.7M610.65 553.5H618.05M610.65 568.7H618.05" stroke="#141414" stroke-width="1.2" fill="none"/>
<rect x="607" y="557.3" width="14.7" height="9" fill="#dadada" stroke="#141414" stroke-width="1.3"/>
<path d="M607 562.4H621.7" stroke="#141414" stroke-width="1.3"/>
<circle cx="595.2" cy="553.1" r="1.55" fill="#ececec" stroke="#1a1a1a" stroke-width="0.8"/>
<circle cx="595.2" cy="557.5" r="1.55" fill="#ececec" stroke="#1a1a1a" stroke-width="0.8"/>
<circle cx="598.5" cy="559.7" r="1.55" fill="#ececec" stroke="#1a1a1a" stroke-width="0.8"/>
<circle cx="601.8" cy="555" r="1.55" fill="#ececec" stroke="#1a1a1a" stroke-width="0.8"/>
<circle cx="601.8" cy="557.9" r="1.55" fill="#ececec" stroke="#1a1a1a" stroke-width="0.8"/>
<circle cx="595.2" cy="565.9" r="1.55" fill="#ececec" stroke="#1a1a1a" stroke-width="0.8"/>
<circle cx="598.5" cy="565.9" r="1.55" fill="#ececec" stroke="#1a1a1a" stroke-width="0.8"/>
<circle cx="601.8" cy="565.9" r="1.55" fill="#ececec" stroke="#1a1a1a" stroke-width="0.8"/>
<circle cx="591.9" cy="568.8" r="1.55" fill="#ececec" stroke="#1a1a1a" stroke-width="0.8"/>
<circle cx="604.7" cy="568.8" r="1.55" fill="#ececec" stroke="#1a1a1a" stroke-width="0.8"/>
<path d="M661.4 552.4V554.2M661.4 557.6V560.4M657.7 552.4H665.1M657.7 560.4H665.1" stroke="#141414" stroke-width="1.2" fill="none"/>
<rect x="654" y="554.5" width="14.8" height="2.8" fill="#dadada" stroke="#141414" stroke-width="1.3"/>
<path d="M654 556.6H668.8" stroke="#141414" stroke-width="1.3"/>
<circle cx="642" cy="552.6" r="1.55" fill="#ececec" stroke="#1a1a1a" stroke-width="0.8"/>
<circle cx="644.6" cy="551.9" r="1.55" fill="#ececec" stroke="#1a1a1a" stroke-width="0.8"/>
<circle cx="639.1" cy="557" r="1.55" fill="#ececec" stroke="#1a1a1a" stroke-width="0.8"/>
<circle cx="641.7" cy="556.3" r="1.55" fill="#ececec" stroke="#1a1a1a" stroke-width="0.8"/>
<circle cx="641.7" cy="560.3" r="1.55" fill="#ececec" stroke="#1a1a1a" stroke-width="0.8"/>
<circle cx="646.8" cy="555.2" r="1.55" fill="#ececec" stroke="#1a1a1a" stroke-width="0.8"/>
<circle cx="649.3" cy="553.4" r="1.55" fill="#ececec" stroke="#1a1a1a" stroke-width="0.8"/>
<circle cx="649.3" cy="557.4" r="1.55" fill="#ececec" stroke="#1a1a1a" stroke-width="0.8"/>
<circle cx="646.8" cy="558.8" r="1.55" fill="#ececec" stroke="#1a1a1a" stroke-width="0.8"/>
<circle cx="651.9" cy="555.5" r="1.55" fill="#ececec" stroke="#1a1a1a" stroke-width="0.8"/>
<text x="62.4" y="220.66" font-size="10.7" font-weight="bold" text-anchor="middle">AXI</text>
<text x="110.3" y="220.66" font-size="10.7" font-weight="bold" text-anchor="middle">2mm</text>
<text x="157" y="220.66" font-size="10.7" font-weight="bold" text-anchor="middle">3mm</text>
<text x="201.1" y="220.66" font-size="10.7" font-weight="bold" text-anchor="middle">4mm</text>
<text x="278.1" y="220.36" font-size="10.7" font-weight="bold" text-anchor="middle">AXI</text>
<text x="325.9" y="220.36" font-size="10.7" font-weight="bold" text-anchor="middle">2mm</text>
<text x="372.9" y="220.36" font-size="10.7" font-weight="bold" text-anchor="middle">3mm</text>
<text x="416.5" y="220.36" font-size="10.7" font-weight="bold" text-anchor="middle">4mm</text>
<text x="62.4" y="463.16" font-size="10.7" font-weight="bold" text-anchor="middle">AXI</text>
<text x="110.4" y="463.16" font-size="10.7" font-weight="bold" text-anchor="middle">2mm</text>
<text x="157" y="463.16" font-size="10.7" font-weight="bold" text-anchor="middle">3mm</text>
<text x="201.1" y="463.16" font-size="10.7" font-weight="bold" text-anchor="middle">4mm</text>
<text x="278.1" y="462.96" font-size="10.7" font-weight="bold" text-anchor="middle">AXI</text>
<text x="325.9" y="462.96" font-size="10.7" font-weight="bold" text-anchor="middle">2mm</text>
<text x="372.6" y="462.96" font-size="10.7" font-weight="bold" text-anchor="middle">3mm</text>
<text x="416.8" y="462.96" font-size="10.7" font-weight="bold" text-anchor="middle">4mm</text>
<text x="62.4" y="706.16" font-size="10.7" font-weight="bold" text-anchor="middle">AXI</text>
<text x="110.4" y="706.16" font-size="10.7" font-weight="bold" text-anchor="middle">2mm</text>
<text x="157" y="706.16" font-size="10.7" font-weight="bold" text-anchor="middle">3mm</text>
<text x="201.1" y="706.16" font-size="10.7" font-weight="bold" text-anchor="middle">4mm</text>
<text x="278.1" y="706.16" font-size="10.7" font-weight="bold" text-anchor="middle">AXI</text>
<text x="325.9" y="706.16" font-size="10.7" font-weight="bold" text-anchor="middle">2mm</text>
<text x="372.6" y="706.16" font-size="10.7" font-weight="bold" text-anchor="middle">3mm</text>
<text x="416.8" y="706.16" font-size="10.7" font-weight="bold" text-anchor="middle">4mm</text>
<text x="510.6" y="220.46" font-size="10.7" font-weight="bold" text-anchor="middle">AXI</text>
<text x="552.5" y="220.46" font-size="10.7" font-weight="bold" text-anchor="middle">3mm</text>
<text x="602.7" y="220.46" font-size="10.7" font-weight="bold" text-anchor="middle">AXI</text>
<text x="647.8" y="220.46" font-size="10.7" font-weight="bold" text-anchor="middle">3mm</text>
<path d="M496.8 223.6H565.1M590.1 223.6H658.7" stroke="#444" stroke-width="0.9"/>
<text x="532.6" y="235.06" font-size="10.7" font-weight="bold" text-anchor="middle">T1</text>
<text x="626.2" y="235.06" font-size="10.7" font-weight="bold" text-anchor="middle">T2</text>
<text x="510.6" y="464.06" font-size="10.7" font-weight="bold" text-anchor="middle">AXI</text>
<text x="552.5" y="464.06" font-size="10.7" font-weight="bold" text-anchor="middle">3mm</text>
<text x="602.7" y="464.06" font-size="10.7" font-weight="bold" text-anchor="middle">AXI</text>
<text x="647.8" y="464.06" font-size="10.7" font-weight="bold" text-anchor="middle">3mm</text>
<path d="M496.8 467.2H565.1M590.1 467.2H658.7" stroke="#444" stroke-width="0.9"/>
<text x="532.6" y="478.66" font-size="10.7" font-weight="bold" text-anchor="middle">T1</text>
<text x="626.2" y="478.66" font-size="10.7" font-weight="bold" text-anchor="middle">T2</text>
<text x="510.6" y="706.56" font-size="10.7" font-weight="bold" text-anchor="middle">AXI</text>
<text x="552.5" y="706.56" font-size="10.7" font-weight="bold" text-anchor="middle">3mm</text>
<text x="602.7" y="706.56" font-size="10.7" font-weight="bold" text-anchor="middle">AXI</text>
<text x="647.8" y="706.56" font-size="10.7" font-weight="bold" text-anchor="middle">3mm</text>
<path d="M496.8 709.7H565.1M590.1 709.7H658.7" stroke="#444" stroke-width="0.9"/>
<text x="532.6" y="721.16" font-size="10.7" font-weight="bold" text-anchor="middle">T1</text>
<text x="626.2" y="721.16" font-size="10.7" font-weight="bold" text-anchor="middle">T2</text>
<path d="M106.9 84.85L106.9 81.9M106.9 84.85L109.71 83.94M106.9 84.85L108.63 87.24M106.9 84.85L105.17 87.24M106.9 84.85L104.09 83.94M113.9 84.85L113.9 81.9M113.9 84.85L116.71 83.94M113.9 84.85L115.63 87.24M113.9 84.85L112.17 87.24M113.9 84.85L111.09 83.94" fill="none" stroke="#111" stroke-width="1.45" stroke-linecap="butt"/>
<path d="M153.5 85.15L153.5 82.2M153.5 85.15L156.31 84.24M153.5 85.15L155.23 87.54M153.5 85.15L151.77 87.54M153.5 85.15L150.69 84.24M160.5 85.15L160.5 82.2M160.5 85.15L163.31 84.24M160.5 85.15L162.23 87.54M160.5 85.15L158.77 87.54M160.5 85.15L157.69 84.24" fill="none" stroke="#111" stroke-width="1.45" stroke-linecap="butt"/>
<path d="M323.6 80.55L323.6 77.6M323.6 80.55L326.41 79.64M323.6 80.55L325.33 82.94M323.6 80.55L321.87 82.94M323.6 80.55L320.79 79.64M330.6 80.55L330.6 77.6M330.6 80.55L333.41 79.64M330.6 80.55L332.33 82.94M330.6 80.55L328.87 82.94M330.6 80.55L327.79 79.64" fill="none" stroke="#111" stroke-width="1.45" stroke-linecap="butt"/>
<path d="M370 80.55L370 77.6M370 80.55L372.81 79.64M370 80.55L371.73 82.94M370 80.55L368.27 82.94M370 80.55L367.19 79.64M377 80.55L377 77.6M377 80.55L379.81 79.64M377 80.55L378.73 82.94M377 80.55L375.27 82.94M377 80.55L374.19 79.64" fill="none" stroke="#111" stroke-width="1.45" stroke-linecap="butt"/>
<path d="M553 68.45L553 65.5M553 68.45L555.81 67.54M553 68.45L554.73 70.84M553 68.45L551.27 70.84M553 68.45L550.19 67.54M560 68.45L560 65.5M560 68.45L562.81 67.54M560 68.45L561.73 70.84M560 68.45L558.27 70.84M560 68.45L557.19 67.54" fill="none" stroke="#111" stroke-width="1.45" stroke-linecap="butt"/>
<path d="M646 67.85L646 64.9M646 67.85L648.81 66.94M646 67.85L647.73 70.24M646 67.85L644.27 70.24M646 67.85L643.19 66.94" fill="none" stroke="#111" stroke-width="1.45" stroke-linecap="butt"/>
<path d="M103.7 313.35L103.7 310.4M103.7 313.35L106.51 312.44M103.7 313.35L105.43 315.74M103.7 313.35L101.97 315.74M103.7 313.35L100.89 312.44M110.7 313.35L110.7 310.4M110.7 313.35L113.51 312.44M110.7 313.35L112.43 315.74M110.7 313.35L108.97 315.74M110.7 313.35L107.89 312.44" fill="none" stroke="#111" stroke-width="1.45" stroke-linecap="butt"/>
<path d="M150.3 313.55L150.3 310.6M150.3 313.55L153.11 312.64M150.3 313.55L152.03 315.94M150.3 313.55L148.57 315.94M150.3 313.55L147.49 312.64M157.3 313.55L157.3 310.6M157.3 313.55L160.11 312.64M157.3 313.55L159.03 315.94M157.3 313.55L155.57 315.94M157.3 313.55L154.49 312.64" fill="none" stroke="#111" stroke-width="1.45" stroke-linecap="butt"/>
<path d="M200.4 322.05L200.4 319.1M200.4 322.05L203.21 321.14M200.4 322.05L202.13 324.44M200.4 322.05L198.67 324.44M200.4 322.05L197.59 321.14" fill="none" stroke="#111" stroke-width="1.45" stroke-linecap="butt"/>
<path d="M325.5 307.6L325.5 304.65M325.5 307.6L328.31 306.69M325.5 307.6L327.23 309.99M325.5 307.6L323.77 309.99M325.5 307.6L322.69 306.69M332.5 307.6L332.5 304.65M332.5 307.6L335.31 306.69M332.5 307.6L334.23 309.99M332.5 307.6L330.77 309.99M332.5 307.6L329.69 306.69" fill="none" stroke="#111" stroke-width="1.45" stroke-linecap="butt"/>
<path d="M375.9 312.8L375.9 309.85M375.9 312.8L378.71 311.89M375.9 312.8L377.63 315.19M375.9 312.8L374.17 315.19M375.9 312.8L373.09 311.89" fill="none" stroke="#111" stroke-width="1.45" stroke-linecap="butt"/>
<path d="M551.5 298.75L551.5 295.8M551.5 298.75L554.31 297.84M551.5 298.75L553.23 301.14M551.5 298.75L549.77 301.14M551.5 298.75L548.69 297.84M558.5 298.75L558.5 295.8M558.5 298.75L561.31 297.84M558.5 298.75L560.23 301.14M558.5 298.75L556.77 301.14M558.5 298.75L555.69 297.84" fill="none" stroke="#111" stroke-width="1.45" stroke-linecap="butt"/>
<path d="M650.4 306.95L650.4 304M650.4 306.95L653.21 306.04M650.4 306.95L652.13 309.34M650.4 306.95L648.67 309.34M650.4 306.95L647.59 306.04" fill="none" stroke="#111" stroke-width="1.45" stroke-linecap="butt"/>
<path d="M104.5 546.75L104.5 543.8M104.5 546.75L107.31 545.84M104.5 546.75L106.23 549.14M104.5 546.75L102.77 549.14M104.5 546.75L101.69 545.84M111.5 546.75L111.5 543.8M111.5 546.75L114.31 545.84M111.5 546.75L113.23 549.14M111.5 546.75L109.77 549.14M111.5 546.75L108.69 545.84" fill="none" stroke="#111" stroke-width="1.45" stroke-linecap="butt"/>
<path d="M151 549.95L151 547M151 549.95L153.81 549.04M151 549.95L152.73 552.34M151 549.95L149.27 552.34M151 549.95L148.19 549.04M158 549.95L158 547M158 549.95L160.81 549.04M158 549.95L159.73 552.34M158 549.95L156.27 552.34M158 549.95L155.19 549.04" fill="none" stroke="#111" stroke-width="1.45" stroke-linecap="butt"/>
<path d="M329.4 549.75L329.4 546.8M329.4 549.75L332.21 548.84M329.4 549.75L331.13 552.14M329.4 549.75L327.67 552.14M329.4 549.75L326.59 548.84M336.4 549.75L336.4 546.8M336.4 549.75L339.21 548.84M336.4 549.75L338.13 552.14M336.4 549.75L334.67 552.14M336.4 549.75L333.59 548.84" fill="none" stroke="#111" stroke-width="1.45" stroke-linecap="butt"/>
<path d="M376 553.85L376 550.9M376 553.85L378.81 552.94M376 553.85L377.73 556.24M376 553.85L374.27 556.24M376 553.85L373.19 552.94M383 553.85L383 550.9M383 553.85L385.81 552.94M383 553.85L384.73 556.24M383 553.85L381.27 556.24M383 553.85L380.19 552.94" fill="none" stroke="#111" stroke-width="1.45" stroke-linecap="butt"/>
<path d="M559.7 539.7L559.7 536.75M559.7 539.7L562.51 538.79M559.7 539.7L561.43 542.09M559.7 539.7L557.97 542.09M559.7 539.7L556.89 538.79" fill="none" stroke="#111" stroke-width="1.45" stroke-linecap="butt"/>
<path d="M653.8 540.8L653.8 537.85M653.8 540.8L656.61 539.89M653.8 540.8L655.53 543.19M653.8 540.8L652.07 543.19M653.8 540.8L650.99 539.89" fill="none" stroke="#111" stroke-width="1.45" stroke-linecap="butt"/>
<text x="133" y="12.1" font-size="17" font-weight="bold" text-anchor="middle">T1w</text>
<text x="346.6" y="12.1" font-size="17" font-weight="bold" text-anchor="middle">T2w</text>
<text x="579.4" y="12.1" font-size="17" font-weight="bold" text-anchor="middle">Re-test</text>
<text x="3.2" y="30" font-size="21.2" font-weight="bold" style="stroke-width:0.7px">a</text>
<text x="229" y="29.5" font-size="21.2" font-weight="bold" style="stroke-width:0.7px">b</text>
<text x="456.2" y="30.3" font-size="21.2" font-weight="bold" style="stroke-width:0.7px">c</text>
<text x="2.7" y="274.2" font-size="21.2" font-weight="bold" style="stroke-width:0.7px">d</text>
<text x="228.4" y="274.2" font-size="21.2" font-weight="bold" style="stroke-width:0.7px">e</text>
<text x="458.2" y="273.7" font-size="21.2" font-weight="bold" style="stroke-width:0.7px">f</text>
<text x="3.3" y="512.9" font-size="21.2" font-weight="bold" style="stroke-width:0.7px">g</text>
<text x="229.2" y="513.4" font-size="21.2" font-weight="bold" style="stroke-width:0.7px">h</text>
<text x="459.7" y="513.1" font-size="21.2" font-weight="bold" style="stroke-width:0.7px">i</text>
<text transform="translate(8.8 125.2) rotate(-90)" x="0" y="0" font-size="13" font-weight="bold" text-anchor="middle">Hippocampus</text>
<text transform="translate(9.6 369.25) rotate(-90)" x="0" y="0" font-size="13.3" font-weight="bold" text-anchor="middle">Lateral Ventricle</text>
<text transform="translate(9.9 606.5) rotate(-90)" x="0" y="0" font-size="13" font-weight="bold" text-anchor="middle">Whole Brain</text>
<rect x="409" y="447.9" width="8" height="2.4" fill="#fff"/><path d="M409 449.1H417" stroke="#999" stroke-width="0.5"/>
</svg>
</body></html>
